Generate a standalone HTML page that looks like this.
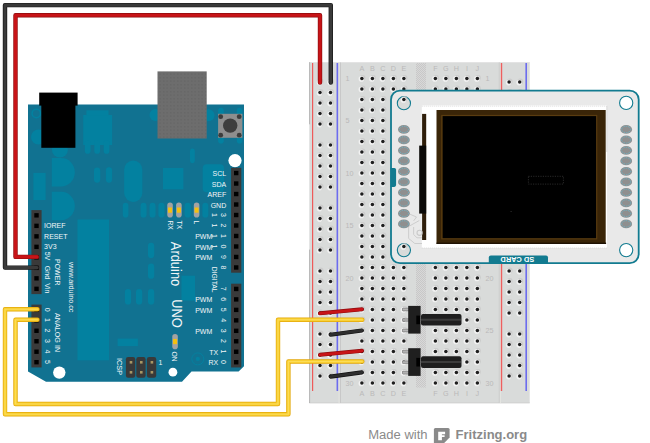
<!DOCTYPE html>
<html><head><meta charset="utf-8"><style>
html,body{margin:0;padding:0;background:#fff;width:650px;height:443px;overflow:hidden}
svg{display:block}
text{font-family:"Liberation Sans",sans-serif}
</style></head><body>
<svg width="650" height="443" viewBox="0 0 650 443">
<rect x="309.3" y="62.2" width="220.4" height="341.1" fill="#d9dbda"/>
<rect x="309.3" y="62.2" width="220.4" height="0.8" fill="#e4e4e4"/>
<rect x="309.3" y="402.4" width="220.4" height="0.8" fill="#cfcfcf"/>
<path d="M309.6 62.2 V124.3 M309.6 249.6 V403" stroke="#a8a8a8" stroke-width="0.8"/>
<path d="M340.4 62.5 V403 M499.3 62.5 V403" stroke="#c6c6c6" stroke-width="1"/>
<path d="M339.1 62.5 V403 M500.3 62.5 V403" stroke="#e4e5e1" stroke-width="1.1"/>
<line x1="312.6" y1="63" x2="312.6" y2="391" stroke="#ee5a5a" stroke-width="1.2"/>
<line x1="337.35" y1="63" x2="337.35" y2="391" stroke="#6c6cee" stroke-width="1.6"/>
<line x1="501.5" y1="63" x2="501.5" y2="391" stroke="#ee5f5f" stroke-width="1.4"/>
<line x1="526.2" y1="63" x2="526.2" y2="391" stroke="#6c6cee" stroke-width="1.6"/>
<defs><pattern id="chk" width="2" height="2" patternUnits="userSpaceOnUse"><rect width="2" height="2" fill="#d8d8d8"/><rect width="1" height="1" fill="#c8c8c8"/><rect x="1" y="1" width="1" height="1" fill="#c8c8c8"/></pattern><pattern id="usb" x="158.5" y="72.5" width="3.5" height="3.5" patternUnits="userSpaceOnUse"><rect width="3.5" height="3.5" fill="#6d6d6d"/><rect x="1.2" y="1.2" width="1" height="1" fill="#5e5e5e"/></pattern></defs>
<rect x="416" y="63" width="10" height="324.6" fill="url(#chk)"/>
<g><circle cx="362.5" cy="77.8" r="2.9" fill="#c6c6c6" opacity="0.7"/><circle cx="361.4" cy="78.9" r="2.8" fill="#f4f4f4" opacity="0.9"/><circle cx="361.9" cy="78.4" r="1.75" fill="#1e1e1e"/><circle cx="373" cy="77.8" r="2.9" fill="#c6c6c6" opacity="0.7"/><circle cx="371.9" cy="78.9" r="2.8" fill="#f4f4f4" opacity="0.9"/><circle cx="372.4" cy="78.4" r="1.75" fill="#1e1e1e"/><circle cx="383.5" cy="77.8" r="2.9" fill="#c6c6c6" opacity="0.7"/><circle cx="382.4" cy="78.9" r="2.8" fill="#f4f4f4" opacity="0.9"/><circle cx="382.9" cy="78.4" r="1.75" fill="#1e1e1e"/><circle cx="394" cy="77.8" r="2.9" fill="#c6c6c6" opacity="0.7"/><circle cx="392.9" cy="78.9" r="2.8" fill="#f4f4f4" opacity="0.9"/><circle cx="393.4" cy="78.4" r="1.75" fill="#1e1e1e"/><circle cx="404.5" cy="77.8" r="2.9" fill="#c6c6c6" opacity="0.7"/><circle cx="403.4" cy="78.9" r="2.8" fill="#f4f4f4" opacity="0.9"/><circle cx="403.9" cy="78.4" r="1.75" fill="#1e1e1e"/><circle cx="436" cy="77.8" r="2.9" fill="#c6c6c6" opacity="0.7"/><circle cx="434.9" cy="78.9" r="2.8" fill="#f4f4f4" opacity="0.9"/><circle cx="435.4" cy="78.4" r="1.75" fill="#1e1e1e"/><circle cx="446.5" cy="77.8" r="2.9" fill="#c6c6c6" opacity="0.7"/><circle cx="445.4" cy="78.9" r="2.8" fill="#f4f4f4" opacity="0.9"/><circle cx="445.9" cy="78.4" r="1.75" fill="#1e1e1e"/><circle cx="457" cy="77.8" r="2.9" fill="#c6c6c6" opacity="0.7"/><circle cx="455.9" cy="78.9" r="2.8" fill="#f4f4f4" opacity="0.9"/><circle cx="456.4" cy="78.4" r="1.75" fill="#1e1e1e"/><circle cx="467.5" cy="77.8" r="2.9" fill="#c6c6c6" opacity="0.7"/><circle cx="466.4" cy="78.9" r="2.8" fill="#f4f4f4" opacity="0.9"/><circle cx="466.9" cy="78.4" r="1.75" fill="#1e1e1e"/><circle cx="478" cy="77.8" r="2.9" fill="#c6c6c6" opacity="0.7"/><circle cx="476.9" cy="78.9" r="2.8" fill="#f4f4f4" opacity="0.9"/><circle cx="477.4" cy="78.4" r="1.75" fill="#1e1e1e"/><circle cx="362.5" cy="88.3" r="2.9" fill="#c6c6c6" opacity="0.7"/><circle cx="361.4" cy="89.4" r="2.8" fill="#f4f4f4" opacity="0.9"/><circle cx="361.9" cy="88.9" r="1.75" fill="#1e1e1e"/><circle cx="373" cy="88.3" r="2.9" fill="#c6c6c6" opacity="0.7"/><circle cx="371.9" cy="89.4" r="2.8" fill="#f4f4f4" opacity="0.9"/><circle cx="372.4" cy="88.9" r="1.75" fill="#1e1e1e"/><circle cx="383.5" cy="88.3" r="2.9" fill="#c6c6c6" opacity="0.7"/><circle cx="382.4" cy="89.4" r="2.8" fill="#f4f4f4" opacity="0.9"/><circle cx="382.9" cy="88.9" r="1.75" fill="#1e1e1e"/><circle cx="394" cy="88.3" r="2.9" fill="#c6c6c6" opacity="0.7"/><circle cx="392.9" cy="89.4" r="2.8" fill="#f4f4f4" opacity="0.9"/><circle cx="393.4" cy="88.9" r="1.75" fill="#1e1e1e"/><circle cx="404.5" cy="88.3" r="2.9" fill="#c6c6c6" opacity="0.7"/><circle cx="403.4" cy="89.4" r="2.8" fill="#f4f4f4" opacity="0.9"/><circle cx="403.9" cy="88.9" r="1.75" fill="#1e1e1e"/><circle cx="436" cy="88.3" r="2.9" fill="#c6c6c6" opacity="0.7"/><circle cx="434.9" cy="89.4" r="2.8" fill="#f4f4f4" opacity="0.9"/><circle cx="435.4" cy="88.9" r="1.75" fill="#1e1e1e"/><circle cx="446.5" cy="88.3" r="2.9" fill="#c6c6c6" opacity="0.7"/><circle cx="445.4" cy="89.4" r="2.8" fill="#f4f4f4" opacity="0.9"/><circle cx="445.9" cy="88.9" r="1.75" fill="#1e1e1e"/><circle cx="457" cy="88.3" r="2.9" fill="#c6c6c6" opacity="0.7"/><circle cx="455.9" cy="89.4" r="2.8" fill="#f4f4f4" opacity="0.9"/><circle cx="456.4" cy="88.9" r="1.75" fill="#1e1e1e"/><circle cx="467.5" cy="88.3" r="2.9" fill="#c6c6c6" opacity="0.7"/><circle cx="466.4" cy="89.4" r="2.8" fill="#f4f4f4" opacity="0.9"/><circle cx="466.9" cy="88.9" r="1.75" fill="#1e1e1e"/><circle cx="478" cy="88.3" r="2.9" fill="#c6c6c6" opacity="0.7"/><circle cx="476.9" cy="89.4" r="2.8" fill="#f4f4f4" opacity="0.9"/><circle cx="477.4" cy="88.9" r="1.75" fill="#1e1e1e"/><circle cx="362.5" cy="98.8" r="2.9" fill="#c6c6c6" opacity="0.7"/><circle cx="361.4" cy="99.9" r="2.8" fill="#f4f4f4" opacity="0.9"/><circle cx="361.9" cy="99.4" r="1.75" fill="#1e1e1e"/><circle cx="373" cy="98.8" r="2.9" fill="#c6c6c6" opacity="0.7"/><circle cx="371.9" cy="99.9" r="2.8" fill="#f4f4f4" opacity="0.9"/><circle cx="372.4" cy="99.4" r="1.75" fill="#1e1e1e"/><circle cx="383.5" cy="98.8" r="2.9" fill="#c6c6c6" opacity="0.7"/><circle cx="382.4" cy="99.9" r="2.8" fill="#f4f4f4" opacity="0.9"/><circle cx="382.9" cy="99.4" r="1.75" fill="#1e1e1e"/><circle cx="394" cy="98.8" r="2.9" fill="#c6c6c6" opacity="0.7"/><circle cx="392.9" cy="99.9" r="2.8" fill="#f4f4f4" opacity="0.9"/><circle cx="393.4" cy="99.4" r="1.75" fill="#1e1e1e"/><circle cx="404.5" cy="98.8" r="2.9" fill="#c6c6c6" opacity="0.7"/><circle cx="403.4" cy="99.9" r="2.8" fill="#f4f4f4" opacity="0.9"/><circle cx="403.9" cy="99.4" r="1.75" fill="#1e1e1e"/><circle cx="436" cy="98.8" r="2.9" fill="#c6c6c6" opacity="0.7"/><circle cx="434.9" cy="99.9" r="2.8" fill="#f4f4f4" opacity="0.9"/><circle cx="435.4" cy="99.4" r="1.75" fill="#1e1e1e"/><circle cx="446.5" cy="98.8" r="2.9" fill="#c6c6c6" opacity="0.7"/><circle cx="445.4" cy="99.9" r="2.8" fill="#f4f4f4" opacity="0.9"/><circle cx="445.9" cy="99.4" r="1.75" fill="#1e1e1e"/><circle cx="457" cy="98.8" r="2.9" fill="#c6c6c6" opacity="0.7"/><circle cx="455.9" cy="99.9" r="2.8" fill="#f4f4f4" opacity="0.9"/><circle cx="456.4" cy="99.4" r="1.75" fill="#1e1e1e"/><circle cx="467.5" cy="98.8" r="2.9" fill="#c6c6c6" opacity="0.7"/><circle cx="466.4" cy="99.9" r="2.8" fill="#f4f4f4" opacity="0.9"/><circle cx="466.9" cy="99.4" r="1.75" fill="#1e1e1e"/><circle cx="478" cy="98.8" r="2.9" fill="#c6c6c6" opacity="0.7"/><circle cx="476.9" cy="99.9" r="2.8" fill="#f4f4f4" opacity="0.9"/><circle cx="477.4" cy="99.4" r="1.75" fill="#1e1e1e"/><circle cx="362.5" cy="109.3" r="2.9" fill="#c6c6c6" opacity="0.7"/><circle cx="361.4" cy="110.4" r="2.8" fill="#f4f4f4" opacity="0.9"/><circle cx="361.9" cy="109.9" r="1.75" fill="#1e1e1e"/><circle cx="373" cy="109.3" r="2.9" fill="#c6c6c6" opacity="0.7"/><circle cx="371.9" cy="110.4" r="2.8" fill="#f4f4f4" opacity="0.9"/><circle cx="372.4" cy="109.9" r="1.75" fill="#1e1e1e"/><circle cx="383.5" cy="109.3" r="2.9" fill="#c6c6c6" opacity="0.7"/><circle cx="382.4" cy="110.4" r="2.8" fill="#f4f4f4" opacity="0.9"/><circle cx="382.9" cy="109.9" r="1.75" fill="#1e1e1e"/><circle cx="394" cy="109.3" r="2.9" fill="#c6c6c6" opacity="0.7"/><circle cx="392.9" cy="110.4" r="2.8" fill="#f4f4f4" opacity="0.9"/><circle cx="393.4" cy="109.9" r="1.75" fill="#1e1e1e"/><circle cx="404.5" cy="109.3" r="2.9" fill="#c6c6c6" opacity="0.7"/><circle cx="403.4" cy="110.4" r="2.8" fill="#f4f4f4" opacity="0.9"/><circle cx="403.9" cy="109.9" r="1.75" fill="#1e1e1e"/><circle cx="436" cy="109.3" r="2.9" fill="#c6c6c6" opacity="0.7"/><circle cx="434.9" cy="110.4" r="2.8" fill="#f4f4f4" opacity="0.9"/><circle cx="435.4" cy="109.9" r="1.75" fill="#1e1e1e"/><circle cx="446.5" cy="109.3" r="2.9" fill="#c6c6c6" opacity="0.7"/><circle cx="445.4" cy="110.4" r="2.8" fill="#f4f4f4" opacity="0.9"/><circle cx="445.9" cy="109.9" r="1.75" fill="#1e1e1e"/><circle cx="457" cy="109.3" r="2.9" fill="#c6c6c6" opacity="0.7"/><circle cx="455.9" cy="110.4" r="2.8" fill="#f4f4f4" opacity="0.9"/><circle cx="456.4" cy="109.9" r="1.75" fill="#1e1e1e"/><circle cx="467.5" cy="109.3" r="2.9" fill="#c6c6c6" opacity="0.7"/><circle cx="466.4" cy="110.4" r="2.8" fill="#f4f4f4" opacity="0.9"/><circle cx="466.9" cy="109.9" r="1.75" fill="#1e1e1e"/><circle cx="478" cy="109.3" r="2.9" fill="#c6c6c6" opacity="0.7"/><circle cx="476.9" cy="110.4" r="2.8" fill="#f4f4f4" opacity="0.9"/><circle cx="477.4" cy="109.9" r="1.75" fill="#1e1e1e"/><circle cx="362.5" cy="119.8" r="2.9" fill="#c6c6c6" opacity="0.7"/><circle cx="361.4" cy="120.9" r="2.8" fill="#f4f4f4" opacity="0.9"/><circle cx="361.9" cy="120.4" r="1.75" fill="#1e1e1e"/><circle cx="373" cy="119.8" r="2.9" fill="#c6c6c6" opacity="0.7"/><circle cx="371.9" cy="120.9" r="2.8" fill="#f4f4f4" opacity="0.9"/><circle cx="372.4" cy="120.4" r="1.75" fill="#1e1e1e"/><circle cx="383.5" cy="119.8" r="2.9" fill="#c6c6c6" opacity="0.7"/><circle cx="382.4" cy="120.9" r="2.8" fill="#f4f4f4" opacity="0.9"/><circle cx="382.9" cy="120.4" r="1.75" fill="#1e1e1e"/><circle cx="394" cy="119.8" r="2.9" fill="#c6c6c6" opacity="0.7"/><circle cx="392.9" cy="120.9" r="2.8" fill="#f4f4f4" opacity="0.9"/><circle cx="393.4" cy="120.4" r="1.75" fill="#1e1e1e"/><circle cx="404.5" cy="119.8" r="2.9" fill="#c6c6c6" opacity="0.7"/><circle cx="403.4" cy="120.9" r="2.8" fill="#f4f4f4" opacity="0.9"/><circle cx="403.9" cy="120.4" r="1.75" fill="#1e1e1e"/><circle cx="436" cy="119.8" r="2.9" fill="#c6c6c6" opacity="0.7"/><circle cx="434.9" cy="120.9" r="2.8" fill="#f4f4f4" opacity="0.9"/><circle cx="435.4" cy="120.4" r="1.75" fill="#1e1e1e"/><circle cx="446.5" cy="119.8" r="2.9" fill="#c6c6c6" opacity="0.7"/><circle cx="445.4" cy="120.9" r="2.8" fill="#f4f4f4" opacity="0.9"/><circle cx="445.9" cy="120.4" r="1.75" fill="#1e1e1e"/><circle cx="457" cy="119.8" r="2.9" fill="#c6c6c6" opacity="0.7"/><circle cx="455.9" cy="120.9" r="2.8" fill="#f4f4f4" opacity="0.9"/><circle cx="456.4" cy="120.4" r="1.75" fill="#1e1e1e"/><circle cx="467.5" cy="119.8" r="2.9" fill="#c6c6c6" opacity="0.7"/><circle cx="466.4" cy="120.9" r="2.8" fill="#f4f4f4" opacity="0.9"/><circle cx="466.9" cy="120.4" r="1.75" fill="#1e1e1e"/><circle cx="478" cy="119.8" r="2.9" fill="#c6c6c6" opacity="0.7"/><circle cx="476.9" cy="120.9" r="2.8" fill="#f4f4f4" opacity="0.9"/><circle cx="477.4" cy="120.4" r="1.75" fill="#1e1e1e"/><circle cx="362.5" cy="130.3" r="2.9" fill="#c6c6c6" opacity="0.7"/><circle cx="361.4" cy="131.4" r="2.8" fill="#f4f4f4" opacity="0.9"/><circle cx="361.9" cy="130.9" r="1.75" fill="#1e1e1e"/><circle cx="373" cy="130.3" r="2.9" fill="#c6c6c6" opacity="0.7"/><circle cx="371.9" cy="131.4" r="2.8" fill="#f4f4f4" opacity="0.9"/><circle cx="372.4" cy="130.9" r="1.75" fill="#1e1e1e"/><circle cx="383.5" cy="130.3" r="2.9" fill="#c6c6c6" opacity="0.7"/><circle cx="382.4" cy="131.4" r="2.8" fill="#f4f4f4" opacity="0.9"/><circle cx="382.9" cy="130.9" r="1.75" fill="#1e1e1e"/><circle cx="394" cy="130.3" r="2.9" fill="#c6c6c6" opacity="0.7"/><circle cx="392.9" cy="131.4" r="2.8" fill="#f4f4f4" opacity="0.9"/><circle cx="393.4" cy="130.9" r="1.75" fill="#1e1e1e"/><circle cx="404.5" cy="130.3" r="2.9" fill="#c6c6c6" opacity="0.7"/><circle cx="403.4" cy="131.4" r="2.8" fill="#f4f4f4" opacity="0.9"/><circle cx="403.9" cy="130.9" r="1.75" fill="#1e1e1e"/><circle cx="436" cy="130.3" r="2.9" fill="#c6c6c6" opacity="0.7"/><circle cx="434.9" cy="131.4" r="2.8" fill="#f4f4f4" opacity="0.9"/><circle cx="435.4" cy="130.9" r="1.75" fill="#1e1e1e"/><circle cx="446.5" cy="130.3" r="2.9" fill="#c6c6c6" opacity="0.7"/><circle cx="445.4" cy="131.4" r="2.8" fill="#f4f4f4" opacity="0.9"/><circle cx="445.9" cy="130.9" r="1.75" fill="#1e1e1e"/><circle cx="457" cy="130.3" r="2.9" fill="#c6c6c6" opacity="0.7"/><circle cx="455.9" cy="131.4" r="2.8" fill="#f4f4f4" opacity="0.9"/><circle cx="456.4" cy="130.9" r="1.75" fill="#1e1e1e"/><circle cx="467.5" cy="130.3" r="2.9" fill="#c6c6c6" opacity="0.7"/><circle cx="466.4" cy="131.4" r="2.8" fill="#f4f4f4" opacity="0.9"/><circle cx="466.9" cy="130.9" r="1.75" fill="#1e1e1e"/><circle cx="478" cy="130.3" r="2.9" fill="#c6c6c6" opacity="0.7"/><circle cx="476.9" cy="131.4" r="2.8" fill="#f4f4f4" opacity="0.9"/><circle cx="477.4" cy="130.9" r="1.75" fill="#1e1e1e"/><circle cx="362.5" cy="140.8" r="2.9" fill="#c6c6c6" opacity="0.7"/><circle cx="361.4" cy="141.9" r="2.8" fill="#f4f4f4" opacity="0.9"/><circle cx="361.9" cy="141.4" r="1.75" fill="#1e1e1e"/><circle cx="373" cy="140.8" r="2.9" fill="#c6c6c6" opacity="0.7"/><circle cx="371.9" cy="141.9" r="2.8" fill="#f4f4f4" opacity="0.9"/><circle cx="372.4" cy="141.4" r="1.75" fill="#1e1e1e"/><circle cx="383.5" cy="140.8" r="2.9" fill="#c6c6c6" opacity="0.7"/><circle cx="382.4" cy="141.9" r="2.8" fill="#f4f4f4" opacity="0.9"/><circle cx="382.9" cy="141.4" r="1.75" fill="#1e1e1e"/><circle cx="394" cy="140.8" r="2.9" fill="#c6c6c6" opacity="0.7"/><circle cx="392.9" cy="141.9" r="2.8" fill="#f4f4f4" opacity="0.9"/><circle cx="393.4" cy="141.4" r="1.75" fill="#1e1e1e"/><circle cx="404.5" cy="140.8" r="2.9" fill="#c6c6c6" opacity="0.7"/><circle cx="403.4" cy="141.9" r="2.8" fill="#f4f4f4" opacity="0.9"/><circle cx="403.9" cy="141.4" r="1.75" fill="#1e1e1e"/><circle cx="436" cy="140.8" r="2.9" fill="#c6c6c6" opacity="0.7"/><circle cx="434.9" cy="141.9" r="2.8" fill="#f4f4f4" opacity="0.9"/><circle cx="435.4" cy="141.4" r="1.75" fill="#1e1e1e"/><circle cx="446.5" cy="140.8" r="2.9" fill="#c6c6c6" opacity="0.7"/><circle cx="445.4" cy="141.9" r="2.8" fill="#f4f4f4" opacity="0.9"/><circle cx="445.9" cy="141.4" r="1.75" fill="#1e1e1e"/><circle cx="457" cy="140.8" r="2.9" fill="#c6c6c6" opacity="0.7"/><circle cx="455.9" cy="141.9" r="2.8" fill="#f4f4f4" opacity="0.9"/><circle cx="456.4" cy="141.4" r="1.75" fill="#1e1e1e"/><circle cx="467.5" cy="140.8" r="2.9" fill="#c6c6c6" opacity="0.7"/><circle cx="466.4" cy="141.9" r="2.8" fill="#f4f4f4" opacity="0.9"/><circle cx="466.9" cy="141.4" r="1.75" fill="#1e1e1e"/><circle cx="478" cy="140.8" r="2.9" fill="#c6c6c6" opacity="0.7"/><circle cx="476.9" cy="141.9" r="2.8" fill="#f4f4f4" opacity="0.9"/><circle cx="477.4" cy="141.4" r="1.75" fill="#1e1e1e"/><circle cx="362.5" cy="151.3" r="2.9" fill="#c6c6c6" opacity="0.7"/><circle cx="361.4" cy="152.4" r="2.8" fill="#f4f4f4" opacity="0.9"/><circle cx="361.9" cy="151.9" r="1.75" fill="#1e1e1e"/><circle cx="373" cy="151.3" r="2.9" fill="#c6c6c6" opacity="0.7"/><circle cx="371.9" cy="152.4" r="2.8" fill="#f4f4f4" opacity="0.9"/><circle cx="372.4" cy="151.9" r="1.75" fill="#1e1e1e"/><circle cx="383.5" cy="151.3" r="2.9" fill="#c6c6c6" opacity="0.7"/><circle cx="382.4" cy="152.4" r="2.8" fill="#f4f4f4" opacity="0.9"/><circle cx="382.9" cy="151.9" r="1.75" fill="#1e1e1e"/><circle cx="394" cy="151.3" r="2.9" fill="#c6c6c6" opacity="0.7"/><circle cx="392.9" cy="152.4" r="2.8" fill="#f4f4f4" opacity="0.9"/><circle cx="393.4" cy="151.9" r="1.75" fill="#1e1e1e"/><circle cx="404.5" cy="151.3" r="2.9" fill="#c6c6c6" opacity="0.7"/><circle cx="403.4" cy="152.4" r="2.8" fill="#f4f4f4" opacity="0.9"/><circle cx="403.9" cy="151.9" r="1.75" fill="#1e1e1e"/><circle cx="436" cy="151.3" r="2.9" fill="#c6c6c6" opacity="0.7"/><circle cx="434.9" cy="152.4" r="2.8" fill="#f4f4f4" opacity="0.9"/><circle cx="435.4" cy="151.9" r="1.75" fill="#1e1e1e"/><circle cx="446.5" cy="151.3" r="2.9" fill="#c6c6c6" opacity="0.7"/><circle cx="445.4" cy="152.4" r="2.8" fill="#f4f4f4" opacity="0.9"/><circle cx="445.9" cy="151.9" r="1.75" fill="#1e1e1e"/><circle cx="457" cy="151.3" r="2.9" fill="#c6c6c6" opacity="0.7"/><circle cx="455.9" cy="152.4" r="2.8" fill="#f4f4f4" opacity="0.9"/><circle cx="456.4" cy="151.9" r="1.75" fill="#1e1e1e"/><circle cx="467.5" cy="151.3" r="2.9" fill="#c6c6c6" opacity="0.7"/><circle cx="466.4" cy="152.4" r="2.8" fill="#f4f4f4" opacity="0.9"/><circle cx="466.9" cy="151.9" r="1.75" fill="#1e1e1e"/><circle cx="478" cy="151.3" r="2.9" fill="#c6c6c6" opacity="0.7"/><circle cx="476.9" cy="152.4" r="2.8" fill="#f4f4f4" opacity="0.9"/><circle cx="477.4" cy="151.9" r="1.75" fill="#1e1e1e"/><circle cx="362.5" cy="161.8" r="2.9" fill="#c6c6c6" opacity="0.7"/><circle cx="361.4" cy="162.9" r="2.8" fill="#f4f4f4" opacity="0.9"/><circle cx="361.9" cy="162.4" r="1.75" fill="#1e1e1e"/><circle cx="373" cy="161.8" r="2.9" fill="#c6c6c6" opacity="0.7"/><circle cx="371.9" cy="162.9" r="2.8" fill="#f4f4f4" opacity="0.9"/><circle cx="372.4" cy="162.4" r="1.75" fill="#1e1e1e"/><circle cx="383.5" cy="161.8" r="2.9" fill="#c6c6c6" opacity="0.7"/><circle cx="382.4" cy="162.9" r="2.8" fill="#f4f4f4" opacity="0.9"/><circle cx="382.9" cy="162.4" r="1.75" fill="#1e1e1e"/><circle cx="394" cy="161.8" r="2.9" fill="#c6c6c6" opacity="0.7"/><circle cx="392.9" cy="162.9" r="2.8" fill="#f4f4f4" opacity="0.9"/><circle cx="393.4" cy="162.4" r="1.75" fill="#1e1e1e"/><circle cx="404.5" cy="161.8" r="2.9" fill="#c6c6c6" opacity="0.7"/><circle cx="403.4" cy="162.9" r="2.8" fill="#f4f4f4" opacity="0.9"/><circle cx="403.9" cy="162.4" r="1.75" fill="#1e1e1e"/><circle cx="436" cy="161.8" r="2.9" fill="#c6c6c6" opacity="0.7"/><circle cx="434.9" cy="162.9" r="2.8" fill="#f4f4f4" opacity="0.9"/><circle cx="435.4" cy="162.4" r="1.75" fill="#1e1e1e"/><circle cx="446.5" cy="161.8" r="2.9" fill="#c6c6c6" opacity="0.7"/><circle cx="445.4" cy="162.9" r="2.8" fill="#f4f4f4" opacity="0.9"/><circle cx="445.9" cy="162.4" r="1.75" fill="#1e1e1e"/><circle cx="457" cy="161.8" r="2.9" fill="#c6c6c6" opacity="0.7"/><circle cx="455.9" cy="162.9" r="2.8" fill="#f4f4f4" opacity="0.9"/><circle cx="456.4" cy="162.4" r="1.75" fill="#1e1e1e"/><circle cx="467.5" cy="161.8" r="2.9" fill="#c6c6c6" opacity="0.7"/><circle cx="466.4" cy="162.9" r="2.8" fill="#f4f4f4" opacity="0.9"/><circle cx="466.9" cy="162.4" r="1.75" fill="#1e1e1e"/><circle cx="478" cy="161.8" r="2.9" fill="#c6c6c6" opacity="0.7"/><circle cx="476.9" cy="162.9" r="2.8" fill="#f4f4f4" opacity="0.9"/><circle cx="477.4" cy="162.4" r="1.75" fill="#1e1e1e"/><circle cx="362.5" cy="172.3" r="2.9" fill="#c6c6c6" opacity="0.7"/><circle cx="361.4" cy="173.4" r="2.8" fill="#f4f4f4" opacity="0.9"/><circle cx="361.9" cy="172.9" r="1.75" fill="#1e1e1e"/><circle cx="373" cy="172.3" r="2.9" fill="#c6c6c6" opacity="0.7"/><circle cx="371.9" cy="173.4" r="2.8" fill="#f4f4f4" opacity="0.9"/><circle cx="372.4" cy="172.9" r="1.75" fill="#1e1e1e"/><circle cx="383.5" cy="172.3" r="2.9" fill="#c6c6c6" opacity="0.7"/><circle cx="382.4" cy="173.4" r="2.8" fill="#f4f4f4" opacity="0.9"/><circle cx="382.9" cy="172.9" r="1.75" fill="#1e1e1e"/><circle cx="394" cy="172.3" r="2.9" fill="#c6c6c6" opacity="0.7"/><circle cx="392.9" cy="173.4" r="2.8" fill="#f4f4f4" opacity="0.9"/><circle cx="393.4" cy="172.9" r="1.75" fill="#1e1e1e"/><circle cx="404.5" cy="172.3" r="2.9" fill="#c6c6c6" opacity="0.7"/><circle cx="403.4" cy="173.4" r="2.8" fill="#f4f4f4" opacity="0.9"/><circle cx="403.9" cy="172.9" r="1.75" fill="#1e1e1e"/><circle cx="436" cy="172.3" r="2.9" fill="#c6c6c6" opacity="0.7"/><circle cx="434.9" cy="173.4" r="2.8" fill="#f4f4f4" opacity="0.9"/><circle cx="435.4" cy="172.9" r="1.75" fill="#1e1e1e"/><circle cx="446.5" cy="172.3" r="2.9" fill="#c6c6c6" opacity="0.7"/><circle cx="445.4" cy="173.4" r="2.8" fill="#f4f4f4" opacity="0.9"/><circle cx="445.9" cy="172.9" r="1.75" fill="#1e1e1e"/><circle cx="457" cy="172.3" r="2.9" fill="#c6c6c6" opacity="0.7"/><circle cx="455.9" cy="173.4" r="2.8" fill="#f4f4f4" opacity="0.9"/><circle cx="456.4" cy="172.9" r="1.75" fill="#1e1e1e"/><circle cx="467.5" cy="172.3" r="2.9" fill="#c6c6c6" opacity="0.7"/><circle cx="466.4" cy="173.4" r="2.8" fill="#f4f4f4" opacity="0.9"/><circle cx="466.9" cy="172.9" r="1.75" fill="#1e1e1e"/><circle cx="478" cy="172.3" r="2.9" fill="#c6c6c6" opacity="0.7"/><circle cx="476.9" cy="173.4" r="2.8" fill="#f4f4f4" opacity="0.9"/><circle cx="477.4" cy="172.9" r="1.75" fill="#1e1e1e"/><circle cx="362.5" cy="182.8" r="2.9" fill="#c6c6c6" opacity="0.7"/><circle cx="361.4" cy="183.9" r="2.8" fill="#f4f4f4" opacity="0.9"/><circle cx="361.9" cy="183.4" r="1.75" fill="#1e1e1e"/><circle cx="373" cy="182.8" r="2.9" fill="#c6c6c6" opacity="0.7"/><circle cx="371.9" cy="183.9" r="2.8" fill="#f4f4f4" opacity="0.9"/><circle cx="372.4" cy="183.4" r="1.75" fill="#1e1e1e"/><circle cx="383.5" cy="182.8" r="2.9" fill="#c6c6c6" opacity="0.7"/><circle cx="382.4" cy="183.9" r="2.8" fill="#f4f4f4" opacity="0.9"/><circle cx="382.9" cy="183.4" r="1.75" fill="#1e1e1e"/><circle cx="394" cy="182.8" r="2.9" fill="#c6c6c6" opacity="0.7"/><circle cx="392.9" cy="183.9" r="2.8" fill="#f4f4f4" opacity="0.9"/><circle cx="393.4" cy="183.4" r="1.75" fill="#1e1e1e"/><circle cx="404.5" cy="182.8" r="2.9" fill="#c6c6c6" opacity="0.7"/><circle cx="403.4" cy="183.9" r="2.8" fill="#f4f4f4" opacity="0.9"/><circle cx="403.9" cy="183.4" r="1.75" fill="#1e1e1e"/><circle cx="436" cy="182.8" r="2.9" fill="#c6c6c6" opacity="0.7"/><circle cx="434.9" cy="183.9" r="2.8" fill="#f4f4f4" opacity="0.9"/><circle cx="435.4" cy="183.4" r="1.75" fill="#1e1e1e"/><circle cx="446.5" cy="182.8" r="2.9" fill="#c6c6c6" opacity="0.7"/><circle cx="445.4" cy="183.9" r="2.8" fill="#f4f4f4" opacity="0.9"/><circle cx="445.9" cy="183.4" r="1.75" fill="#1e1e1e"/><circle cx="457" cy="182.8" r="2.9" fill="#c6c6c6" opacity="0.7"/><circle cx="455.9" cy="183.9" r="2.8" fill="#f4f4f4" opacity="0.9"/><circle cx="456.4" cy="183.4" r="1.75" fill="#1e1e1e"/><circle cx="467.5" cy="182.8" r="2.9" fill="#c6c6c6" opacity="0.7"/><circle cx="466.4" cy="183.9" r="2.8" fill="#f4f4f4" opacity="0.9"/><circle cx="466.9" cy="183.4" r="1.75" fill="#1e1e1e"/><circle cx="478" cy="182.8" r="2.9" fill="#c6c6c6" opacity="0.7"/><circle cx="476.9" cy="183.9" r="2.8" fill="#f4f4f4" opacity="0.9"/><circle cx="477.4" cy="183.4" r="1.75" fill="#1e1e1e"/><circle cx="362.5" cy="193.3" r="2.9" fill="#c6c6c6" opacity="0.7"/><circle cx="361.4" cy="194.4" r="2.8" fill="#f4f4f4" opacity="0.9"/><circle cx="361.9" cy="193.9" r="1.75" fill="#1e1e1e"/><circle cx="373" cy="193.3" r="2.9" fill="#c6c6c6" opacity="0.7"/><circle cx="371.9" cy="194.4" r="2.8" fill="#f4f4f4" opacity="0.9"/><circle cx="372.4" cy="193.9" r="1.75" fill="#1e1e1e"/><circle cx="383.5" cy="193.3" r="2.9" fill="#c6c6c6" opacity="0.7"/><circle cx="382.4" cy="194.4" r="2.8" fill="#f4f4f4" opacity="0.9"/><circle cx="382.9" cy="193.9" r="1.75" fill="#1e1e1e"/><circle cx="394" cy="193.3" r="2.9" fill="#c6c6c6" opacity="0.7"/><circle cx="392.9" cy="194.4" r="2.8" fill="#f4f4f4" opacity="0.9"/><circle cx="393.4" cy="193.9" r="1.75" fill="#1e1e1e"/><circle cx="404.5" cy="193.3" r="2.9" fill="#c6c6c6" opacity="0.7"/><circle cx="403.4" cy="194.4" r="2.8" fill="#f4f4f4" opacity="0.9"/><circle cx="403.9" cy="193.9" r="1.75" fill="#1e1e1e"/><circle cx="436" cy="193.3" r="2.9" fill="#c6c6c6" opacity="0.7"/><circle cx="434.9" cy="194.4" r="2.8" fill="#f4f4f4" opacity="0.9"/><circle cx="435.4" cy="193.9" r="1.75" fill="#1e1e1e"/><circle cx="446.5" cy="193.3" r="2.9" fill="#c6c6c6" opacity="0.7"/><circle cx="445.4" cy="194.4" r="2.8" fill="#f4f4f4" opacity="0.9"/><circle cx="445.9" cy="193.9" r="1.75" fill="#1e1e1e"/><circle cx="457" cy="193.3" r="2.9" fill="#c6c6c6" opacity="0.7"/><circle cx="455.9" cy="194.4" r="2.8" fill="#f4f4f4" opacity="0.9"/><circle cx="456.4" cy="193.9" r="1.75" fill="#1e1e1e"/><circle cx="467.5" cy="193.3" r="2.9" fill="#c6c6c6" opacity="0.7"/><circle cx="466.4" cy="194.4" r="2.8" fill="#f4f4f4" opacity="0.9"/><circle cx="466.9" cy="193.9" r="1.75" fill="#1e1e1e"/><circle cx="478" cy="193.3" r="2.9" fill="#c6c6c6" opacity="0.7"/><circle cx="476.9" cy="194.4" r="2.8" fill="#f4f4f4" opacity="0.9"/><circle cx="477.4" cy="193.9" r="1.75" fill="#1e1e1e"/><circle cx="362.5" cy="203.8" r="2.9" fill="#c6c6c6" opacity="0.7"/><circle cx="361.4" cy="204.9" r="2.8" fill="#f4f4f4" opacity="0.9"/><circle cx="361.9" cy="204.4" r="1.75" fill="#1e1e1e"/><circle cx="373" cy="203.8" r="2.9" fill="#c6c6c6" opacity="0.7"/><circle cx="371.9" cy="204.9" r="2.8" fill="#f4f4f4" opacity="0.9"/><circle cx="372.4" cy="204.4" r="1.75" fill="#1e1e1e"/><circle cx="383.5" cy="203.8" r="2.9" fill="#c6c6c6" opacity="0.7"/><circle cx="382.4" cy="204.9" r="2.8" fill="#f4f4f4" opacity="0.9"/><circle cx="382.9" cy="204.4" r="1.75" fill="#1e1e1e"/><circle cx="394" cy="203.8" r="2.9" fill="#c6c6c6" opacity="0.7"/><circle cx="392.9" cy="204.9" r="2.8" fill="#f4f4f4" opacity="0.9"/><circle cx="393.4" cy="204.4" r="1.75" fill="#1e1e1e"/><circle cx="404.5" cy="203.8" r="2.9" fill="#c6c6c6" opacity="0.7"/><circle cx="403.4" cy="204.9" r="2.8" fill="#f4f4f4" opacity="0.9"/><circle cx="403.9" cy="204.4" r="1.75" fill="#1e1e1e"/><circle cx="436" cy="203.8" r="2.9" fill="#c6c6c6" opacity="0.7"/><circle cx="434.9" cy="204.9" r="2.8" fill="#f4f4f4" opacity="0.9"/><circle cx="435.4" cy="204.4" r="1.75" fill="#1e1e1e"/><circle cx="446.5" cy="203.8" r="2.9" fill="#c6c6c6" opacity="0.7"/><circle cx="445.4" cy="204.9" r="2.8" fill="#f4f4f4" opacity="0.9"/><circle cx="445.9" cy="204.4" r="1.75" fill="#1e1e1e"/><circle cx="457" cy="203.8" r="2.9" fill="#c6c6c6" opacity="0.7"/><circle cx="455.9" cy="204.9" r="2.8" fill="#f4f4f4" opacity="0.9"/><circle cx="456.4" cy="204.4" r="1.75" fill="#1e1e1e"/><circle cx="467.5" cy="203.8" r="2.9" fill="#c6c6c6" opacity="0.7"/><circle cx="466.4" cy="204.9" r="2.8" fill="#f4f4f4" opacity="0.9"/><circle cx="466.9" cy="204.4" r="1.75" fill="#1e1e1e"/><circle cx="478" cy="203.8" r="2.9" fill="#c6c6c6" opacity="0.7"/><circle cx="476.9" cy="204.9" r="2.8" fill="#f4f4f4" opacity="0.9"/><circle cx="477.4" cy="204.4" r="1.75" fill="#1e1e1e"/><circle cx="362.5" cy="214.3" r="2.9" fill="#c6c6c6" opacity="0.7"/><circle cx="361.4" cy="215.4" r="2.8" fill="#f4f4f4" opacity="0.9"/><circle cx="361.9" cy="214.9" r="1.75" fill="#1e1e1e"/><circle cx="373" cy="214.3" r="2.9" fill="#c6c6c6" opacity="0.7"/><circle cx="371.9" cy="215.4" r="2.8" fill="#f4f4f4" opacity="0.9"/><circle cx="372.4" cy="214.9" r="1.75" fill="#1e1e1e"/><circle cx="383.5" cy="214.3" r="2.9" fill="#c6c6c6" opacity="0.7"/><circle cx="382.4" cy="215.4" r="2.8" fill="#f4f4f4" opacity="0.9"/><circle cx="382.9" cy="214.9" r="1.75" fill="#1e1e1e"/><circle cx="394" cy="214.3" r="2.9" fill="#c6c6c6" opacity="0.7"/><circle cx="392.9" cy="215.4" r="2.8" fill="#f4f4f4" opacity="0.9"/><circle cx="393.4" cy="214.9" r="1.75" fill="#1e1e1e"/><circle cx="404.5" cy="214.3" r="2.9" fill="#c6c6c6" opacity="0.7"/><circle cx="403.4" cy="215.4" r="2.8" fill="#f4f4f4" opacity="0.9"/><circle cx="403.9" cy="214.9" r="1.75" fill="#1e1e1e"/><circle cx="436" cy="214.3" r="2.9" fill="#c6c6c6" opacity="0.7"/><circle cx="434.9" cy="215.4" r="2.8" fill="#f4f4f4" opacity="0.9"/><circle cx="435.4" cy="214.9" r="1.75" fill="#1e1e1e"/><circle cx="446.5" cy="214.3" r="2.9" fill="#c6c6c6" opacity="0.7"/><circle cx="445.4" cy="215.4" r="2.8" fill="#f4f4f4" opacity="0.9"/><circle cx="445.9" cy="214.9" r="1.75" fill="#1e1e1e"/><circle cx="457" cy="214.3" r="2.9" fill="#c6c6c6" opacity="0.7"/><circle cx="455.9" cy="215.4" r="2.8" fill="#f4f4f4" opacity="0.9"/><circle cx="456.4" cy="214.9" r="1.75" fill="#1e1e1e"/><circle cx="467.5" cy="214.3" r="2.9" fill="#c6c6c6" opacity="0.7"/><circle cx="466.4" cy="215.4" r="2.8" fill="#f4f4f4" opacity="0.9"/><circle cx="466.9" cy="214.9" r="1.75" fill="#1e1e1e"/><circle cx="478" cy="214.3" r="2.9" fill="#c6c6c6" opacity="0.7"/><circle cx="476.9" cy="215.4" r="2.8" fill="#f4f4f4" opacity="0.9"/><circle cx="477.4" cy="214.9" r="1.75" fill="#1e1e1e"/><circle cx="362.5" cy="224.8" r="2.9" fill="#c6c6c6" opacity="0.7"/><circle cx="361.4" cy="225.9" r="2.8" fill="#f4f4f4" opacity="0.9"/><circle cx="361.9" cy="225.4" r="1.75" fill="#1e1e1e"/><circle cx="373" cy="224.8" r="2.9" fill="#c6c6c6" opacity="0.7"/><circle cx="371.9" cy="225.9" r="2.8" fill="#f4f4f4" opacity="0.9"/><circle cx="372.4" cy="225.4" r="1.75" fill="#1e1e1e"/><circle cx="383.5" cy="224.8" r="2.9" fill="#c6c6c6" opacity="0.7"/><circle cx="382.4" cy="225.9" r="2.8" fill="#f4f4f4" opacity="0.9"/><circle cx="382.9" cy="225.4" r="1.75" fill="#1e1e1e"/><circle cx="394" cy="224.8" r="2.9" fill="#c6c6c6" opacity="0.7"/><circle cx="392.9" cy="225.9" r="2.8" fill="#f4f4f4" opacity="0.9"/><circle cx="393.4" cy="225.4" r="1.75" fill="#1e1e1e"/><circle cx="404.5" cy="224.8" r="2.9" fill="#c6c6c6" opacity="0.7"/><circle cx="403.4" cy="225.9" r="2.8" fill="#f4f4f4" opacity="0.9"/><circle cx="403.9" cy="225.4" r="1.75" fill="#1e1e1e"/><circle cx="436" cy="224.8" r="2.9" fill="#c6c6c6" opacity="0.7"/><circle cx="434.9" cy="225.9" r="2.8" fill="#f4f4f4" opacity="0.9"/><circle cx="435.4" cy="225.4" r="1.75" fill="#1e1e1e"/><circle cx="446.5" cy="224.8" r="2.9" fill="#c6c6c6" opacity="0.7"/><circle cx="445.4" cy="225.9" r="2.8" fill="#f4f4f4" opacity="0.9"/><circle cx="445.9" cy="225.4" r="1.75" fill="#1e1e1e"/><circle cx="457" cy="224.8" r="2.9" fill="#c6c6c6" opacity="0.7"/><circle cx="455.9" cy="225.9" r="2.8" fill="#f4f4f4" opacity="0.9"/><circle cx="456.4" cy="225.4" r="1.75" fill="#1e1e1e"/><circle cx="467.5" cy="224.8" r="2.9" fill="#c6c6c6" opacity="0.7"/><circle cx="466.4" cy="225.9" r="2.8" fill="#f4f4f4" opacity="0.9"/><circle cx="466.9" cy="225.4" r="1.75" fill="#1e1e1e"/><circle cx="478" cy="224.8" r="2.9" fill="#c6c6c6" opacity="0.7"/><circle cx="476.9" cy="225.9" r="2.8" fill="#f4f4f4" opacity="0.9"/><circle cx="477.4" cy="225.4" r="1.75" fill="#1e1e1e"/><circle cx="362.5" cy="235.3" r="2.9" fill="#c6c6c6" opacity="0.7"/><circle cx="361.4" cy="236.4" r="2.8" fill="#f4f4f4" opacity="0.9"/><circle cx="361.9" cy="235.9" r="1.75" fill="#1e1e1e"/><circle cx="373" cy="235.3" r="2.9" fill="#c6c6c6" opacity="0.7"/><circle cx="371.9" cy="236.4" r="2.8" fill="#f4f4f4" opacity="0.9"/><circle cx="372.4" cy="235.9" r="1.75" fill="#1e1e1e"/><circle cx="383.5" cy="235.3" r="2.9" fill="#c6c6c6" opacity="0.7"/><circle cx="382.4" cy="236.4" r="2.8" fill="#f4f4f4" opacity="0.9"/><circle cx="382.9" cy="235.9" r="1.75" fill="#1e1e1e"/><circle cx="394" cy="235.3" r="2.9" fill="#c6c6c6" opacity="0.7"/><circle cx="392.9" cy="236.4" r="2.8" fill="#f4f4f4" opacity="0.9"/><circle cx="393.4" cy="235.9" r="1.75" fill="#1e1e1e"/><circle cx="404.5" cy="235.3" r="2.9" fill="#c6c6c6" opacity="0.7"/><circle cx="403.4" cy="236.4" r="2.8" fill="#f4f4f4" opacity="0.9"/><circle cx="403.9" cy="235.9" r="1.75" fill="#1e1e1e"/><circle cx="436" cy="235.3" r="2.9" fill="#c6c6c6" opacity="0.7"/><circle cx="434.9" cy="236.4" r="2.8" fill="#f4f4f4" opacity="0.9"/><circle cx="435.4" cy="235.9" r="1.75" fill="#1e1e1e"/><circle cx="446.5" cy="235.3" r="2.9" fill="#c6c6c6" opacity="0.7"/><circle cx="445.4" cy="236.4" r="2.8" fill="#f4f4f4" opacity="0.9"/><circle cx="445.9" cy="235.9" r="1.75" fill="#1e1e1e"/><circle cx="457" cy="235.3" r="2.9" fill="#c6c6c6" opacity="0.7"/><circle cx="455.9" cy="236.4" r="2.8" fill="#f4f4f4" opacity="0.9"/><circle cx="456.4" cy="235.9" r="1.75" fill="#1e1e1e"/><circle cx="467.5" cy="235.3" r="2.9" fill="#c6c6c6" opacity="0.7"/><circle cx="466.4" cy="236.4" r="2.8" fill="#f4f4f4" opacity="0.9"/><circle cx="466.9" cy="235.9" r="1.75" fill="#1e1e1e"/><circle cx="478" cy="235.3" r="2.9" fill="#c6c6c6" opacity="0.7"/><circle cx="476.9" cy="236.4" r="2.8" fill="#f4f4f4" opacity="0.9"/><circle cx="477.4" cy="235.9" r="1.75" fill="#1e1e1e"/><circle cx="362.5" cy="245.8" r="2.9" fill="#c6c6c6" opacity="0.7"/><circle cx="361.4" cy="246.9" r="2.8" fill="#f4f4f4" opacity="0.9"/><circle cx="361.9" cy="246.4" r="1.75" fill="#1e1e1e"/><circle cx="373" cy="245.8" r="2.9" fill="#c6c6c6" opacity="0.7"/><circle cx="371.9" cy="246.9" r="2.8" fill="#f4f4f4" opacity="0.9"/><circle cx="372.4" cy="246.4" r="1.75" fill="#1e1e1e"/><circle cx="383.5" cy="245.8" r="2.9" fill="#c6c6c6" opacity="0.7"/><circle cx="382.4" cy="246.9" r="2.8" fill="#f4f4f4" opacity="0.9"/><circle cx="382.9" cy="246.4" r="1.75" fill="#1e1e1e"/><circle cx="394" cy="245.8" r="2.9" fill="#c6c6c6" opacity="0.7"/><circle cx="392.9" cy="246.9" r="2.8" fill="#f4f4f4" opacity="0.9"/><circle cx="393.4" cy="246.4" r="1.75" fill="#1e1e1e"/><circle cx="404.5" cy="245.8" r="2.9" fill="#c6c6c6" opacity="0.7"/><circle cx="403.4" cy="246.9" r="2.8" fill="#f4f4f4" opacity="0.9"/><circle cx="403.9" cy="246.4" r="1.75" fill="#1e1e1e"/><circle cx="436" cy="245.8" r="2.9" fill="#c6c6c6" opacity="0.7"/><circle cx="434.9" cy="246.9" r="2.8" fill="#f4f4f4" opacity="0.9"/><circle cx="435.4" cy="246.4" r="1.75" fill="#1e1e1e"/><circle cx="446.5" cy="245.8" r="2.9" fill="#c6c6c6" opacity="0.7"/><circle cx="445.4" cy="246.9" r="2.8" fill="#f4f4f4" opacity="0.9"/><circle cx="445.9" cy="246.4" r="1.75" fill="#1e1e1e"/><circle cx="457" cy="245.8" r="2.9" fill="#c6c6c6" opacity="0.7"/><circle cx="455.9" cy="246.9" r="2.8" fill="#f4f4f4" opacity="0.9"/><circle cx="456.4" cy="246.4" r="1.75" fill="#1e1e1e"/><circle cx="467.5" cy="245.8" r="2.9" fill="#c6c6c6" opacity="0.7"/><circle cx="466.4" cy="246.9" r="2.8" fill="#f4f4f4" opacity="0.9"/><circle cx="466.9" cy="246.4" r="1.75" fill="#1e1e1e"/><circle cx="478" cy="245.8" r="2.9" fill="#c6c6c6" opacity="0.7"/><circle cx="476.9" cy="246.9" r="2.8" fill="#f4f4f4" opacity="0.9"/><circle cx="477.4" cy="246.4" r="1.75" fill="#1e1e1e"/><circle cx="362.5" cy="256.3" r="2.9" fill="#c6c6c6" opacity="0.7"/><circle cx="361.4" cy="257.4" r="2.8" fill="#f4f4f4" opacity="0.9"/><circle cx="361.9" cy="256.9" r="1.75" fill="#1e1e1e"/><circle cx="373" cy="256.3" r="2.9" fill="#c6c6c6" opacity="0.7"/><circle cx="371.9" cy="257.4" r="2.8" fill="#f4f4f4" opacity="0.9"/><circle cx="372.4" cy="256.9" r="1.75" fill="#1e1e1e"/><circle cx="383.5" cy="256.3" r="2.9" fill="#c6c6c6" opacity="0.7"/><circle cx="382.4" cy="257.4" r="2.8" fill="#f4f4f4" opacity="0.9"/><circle cx="382.9" cy="256.9" r="1.75" fill="#1e1e1e"/><circle cx="394" cy="256.3" r="2.9" fill="#c6c6c6" opacity="0.7"/><circle cx="392.9" cy="257.4" r="2.8" fill="#f4f4f4" opacity="0.9"/><circle cx="393.4" cy="256.9" r="1.75" fill="#1e1e1e"/><circle cx="404.5" cy="256.3" r="2.9" fill="#c6c6c6" opacity="0.7"/><circle cx="403.4" cy="257.4" r="2.8" fill="#f4f4f4" opacity="0.9"/><circle cx="403.9" cy="256.9" r="1.75" fill="#1e1e1e"/><circle cx="436" cy="256.3" r="2.9" fill="#c6c6c6" opacity="0.7"/><circle cx="434.9" cy="257.4" r="2.8" fill="#f4f4f4" opacity="0.9"/><circle cx="435.4" cy="256.9" r="1.75" fill="#1e1e1e"/><circle cx="446.5" cy="256.3" r="2.9" fill="#c6c6c6" opacity="0.7"/><circle cx="445.4" cy="257.4" r="2.8" fill="#f4f4f4" opacity="0.9"/><circle cx="445.9" cy="256.9" r="1.75" fill="#1e1e1e"/><circle cx="457" cy="256.3" r="2.9" fill="#c6c6c6" opacity="0.7"/><circle cx="455.9" cy="257.4" r="2.8" fill="#f4f4f4" opacity="0.9"/><circle cx="456.4" cy="256.9" r="1.75" fill="#1e1e1e"/><circle cx="467.5" cy="256.3" r="2.9" fill="#c6c6c6" opacity="0.7"/><circle cx="466.4" cy="257.4" r="2.8" fill="#f4f4f4" opacity="0.9"/><circle cx="466.9" cy="256.9" r="1.75" fill="#1e1e1e"/><circle cx="478" cy="256.3" r="2.9" fill="#c6c6c6" opacity="0.7"/><circle cx="476.9" cy="257.4" r="2.8" fill="#f4f4f4" opacity="0.9"/><circle cx="477.4" cy="256.9" r="1.75" fill="#1e1e1e"/><circle cx="362.5" cy="266.8" r="2.9" fill="#c6c6c6" opacity="0.7"/><circle cx="361.4" cy="267.9" r="2.8" fill="#f4f4f4" opacity="0.9"/><circle cx="361.9" cy="267.4" r="1.75" fill="#1e1e1e"/><circle cx="373" cy="266.8" r="2.9" fill="#c6c6c6" opacity="0.7"/><circle cx="371.9" cy="267.9" r="2.8" fill="#f4f4f4" opacity="0.9"/><circle cx="372.4" cy="267.4" r="1.75" fill="#1e1e1e"/><circle cx="383.5" cy="266.8" r="2.9" fill="#c6c6c6" opacity="0.7"/><circle cx="382.4" cy="267.9" r="2.8" fill="#f4f4f4" opacity="0.9"/><circle cx="382.9" cy="267.4" r="1.75" fill="#1e1e1e"/><circle cx="394" cy="266.8" r="2.9" fill="#c6c6c6" opacity="0.7"/><circle cx="392.9" cy="267.9" r="2.8" fill="#f4f4f4" opacity="0.9"/><circle cx="393.4" cy="267.4" r="1.75" fill="#1e1e1e"/><circle cx="404.5" cy="266.8" r="2.9" fill="#c6c6c6" opacity="0.7"/><circle cx="403.4" cy="267.9" r="2.8" fill="#f4f4f4" opacity="0.9"/><circle cx="403.9" cy="267.4" r="1.75" fill="#1e1e1e"/><circle cx="436" cy="266.8" r="2.9" fill="#c6c6c6" opacity="0.7"/><circle cx="434.9" cy="267.9" r="2.8" fill="#f4f4f4" opacity="0.9"/><circle cx="435.4" cy="267.4" r="1.75" fill="#1e1e1e"/><circle cx="446.5" cy="266.8" r="2.9" fill="#c6c6c6" opacity="0.7"/><circle cx="445.4" cy="267.9" r="2.8" fill="#f4f4f4" opacity="0.9"/><circle cx="445.9" cy="267.4" r="1.75" fill="#1e1e1e"/><circle cx="457" cy="266.8" r="2.9" fill="#c6c6c6" opacity="0.7"/><circle cx="455.9" cy="267.9" r="2.8" fill="#f4f4f4" opacity="0.9"/><circle cx="456.4" cy="267.4" r="1.75" fill="#1e1e1e"/><circle cx="467.5" cy="266.8" r="2.9" fill="#c6c6c6" opacity="0.7"/><circle cx="466.4" cy="267.9" r="2.8" fill="#f4f4f4" opacity="0.9"/><circle cx="466.9" cy="267.4" r="1.75" fill="#1e1e1e"/><circle cx="478" cy="266.8" r="2.9" fill="#c6c6c6" opacity="0.7"/><circle cx="476.9" cy="267.9" r="2.8" fill="#f4f4f4" opacity="0.9"/><circle cx="477.4" cy="267.4" r="1.75" fill="#1e1e1e"/><circle cx="362.5" cy="277.3" r="2.9" fill="#c6c6c6" opacity="0.7"/><circle cx="361.4" cy="278.4" r="2.8" fill="#f4f4f4" opacity="0.9"/><circle cx="361.9" cy="277.9" r="1.75" fill="#1e1e1e"/><circle cx="373" cy="277.3" r="2.9" fill="#c6c6c6" opacity="0.7"/><circle cx="371.9" cy="278.4" r="2.8" fill="#f4f4f4" opacity="0.9"/><circle cx="372.4" cy="277.9" r="1.75" fill="#1e1e1e"/><circle cx="383.5" cy="277.3" r="2.9" fill="#c6c6c6" opacity="0.7"/><circle cx="382.4" cy="278.4" r="2.8" fill="#f4f4f4" opacity="0.9"/><circle cx="382.9" cy="277.9" r="1.75" fill="#1e1e1e"/><circle cx="394" cy="277.3" r="2.9" fill="#c6c6c6" opacity="0.7"/><circle cx="392.9" cy="278.4" r="2.8" fill="#f4f4f4" opacity="0.9"/><circle cx="393.4" cy="277.9" r="1.75" fill="#1e1e1e"/><circle cx="404.5" cy="277.3" r="2.9" fill="#c6c6c6" opacity="0.7"/><circle cx="403.4" cy="278.4" r="2.8" fill="#f4f4f4" opacity="0.9"/><circle cx="403.9" cy="277.9" r="1.75" fill="#1e1e1e"/><circle cx="436" cy="277.3" r="2.9" fill="#c6c6c6" opacity="0.7"/><circle cx="434.9" cy="278.4" r="2.8" fill="#f4f4f4" opacity="0.9"/><circle cx="435.4" cy="277.9" r="1.75" fill="#1e1e1e"/><circle cx="446.5" cy="277.3" r="2.9" fill="#c6c6c6" opacity="0.7"/><circle cx="445.4" cy="278.4" r="2.8" fill="#f4f4f4" opacity="0.9"/><circle cx="445.9" cy="277.9" r="1.75" fill="#1e1e1e"/><circle cx="457" cy="277.3" r="2.9" fill="#c6c6c6" opacity="0.7"/><circle cx="455.9" cy="278.4" r="2.8" fill="#f4f4f4" opacity="0.9"/><circle cx="456.4" cy="277.9" r="1.75" fill="#1e1e1e"/><circle cx="467.5" cy="277.3" r="2.9" fill="#c6c6c6" opacity="0.7"/><circle cx="466.4" cy="278.4" r="2.8" fill="#f4f4f4" opacity="0.9"/><circle cx="466.9" cy="277.9" r="1.75" fill="#1e1e1e"/><circle cx="478" cy="277.3" r="2.9" fill="#c6c6c6" opacity="0.7"/><circle cx="476.9" cy="278.4" r="2.8" fill="#f4f4f4" opacity="0.9"/><circle cx="477.4" cy="277.9" r="1.75" fill="#1e1e1e"/><circle cx="362.5" cy="287.8" r="2.9" fill="#c6c6c6" opacity="0.7"/><circle cx="361.4" cy="288.9" r="2.8" fill="#f4f4f4" opacity="0.9"/><circle cx="361.9" cy="288.4" r="1.75" fill="#1e1e1e"/><circle cx="373" cy="287.8" r="2.9" fill="#c6c6c6" opacity="0.7"/><circle cx="371.9" cy="288.9" r="2.8" fill="#f4f4f4" opacity="0.9"/><circle cx="372.4" cy="288.4" r="1.75" fill="#1e1e1e"/><circle cx="383.5" cy="287.8" r="2.9" fill="#c6c6c6" opacity="0.7"/><circle cx="382.4" cy="288.9" r="2.8" fill="#f4f4f4" opacity="0.9"/><circle cx="382.9" cy="288.4" r="1.75" fill="#1e1e1e"/><circle cx="394" cy="287.8" r="2.9" fill="#c6c6c6" opacity="0.7"/><circle cx="392.9" cy="288.9" r="2.8" fill="#f4f4f4" opacity="0.9"/><circle cx="393.4" cy="288.4" r="1.75" fill="#1e1e1e"/><circle cx="404.5" cy="287.8" r="2.9" fill="#c6c6c6" opacity="0.7"/><circle cx="403.4" cy="288.9" r="2.8" fill="#f4f4f4" opacity="0.9"/><circle cx="403.9" cy="288.4" r="1.75" fill="#1e1e1e"/><circle cx="436" cy="287.8" r="2.9" fill="#c6c6c6" opacity="0.7"/><circle cx="434.9" cy="288.9" r="2.8" fill="#f4f4f4" opacity="0.9"/><circle cx="435.4" cy="288.4" r="1.75" fill="#1e1e1e"/><circle cx="446.5" cy="287.8" r="2.9" fill="#c6c6c6" opacity="0.7"/><circle cx="445.4" cy="288.9" r="2.8" fill="#f4f4f4" opacity="0.9"/><circle cx="445.9" cy="288.4" r="1.75" fill="#1e1e1e"/><circle cx="457" cy="287.8" r="2.9" fill="#c6c6c6" opacity="0.7"/><circle cx="455.9" cy="288.9" r="2.8" fill="#f4f4f4" opacity="0.9"/><circle cx="456.4" cy="288.4" r="1.75" fill="#1e1e1e"/><circle cx="467.5" cy="287.8" r="2.9" fill="#c6c6c6" opacity="0.7"/><circle cx="466.4" cy="288.9" r="2.8" fill="#f4f4f4" opacity="0.9"/><circle cx="466.9" cy="288.4" r="1.75" fill="#1e1e1e"/><circle cx="478" cy="287.8" r="2.9" fill="#c6c6c6" opacity="0.7"/><circle cx="476.9" cy="288.9" r="2.8" fill="#f4f4f4" opacity="0.9"/><circle cx="477.4" cy="288.4" r="1.75" fill="#1e1e1e"/><circle cx="362.5" cy="298.3" r="2.9" fill="#c6c6c6" opacity="0.7"/><circle cx="361.4" cy="299.4" r="2.8" fill="#f4f4f4" opacity="0.9"/><circle cx="361.9" cy="298.9" r="1.75" fill="#1e1e1e"/><circle cx="373" cy="298.3" r="2.9" fill="#c6c6c6" opacity="0.7"/><circle cx="371.9" cy="299.4" r="2.8" fill="#f4f4f4" opacity="0.9"/><circle cx="372.4" cy="298.9" r="1.75" fill="#1e1e1e"/><circle cx="383.5" cy="298.3" r="2.9" fill="#c6c6c6" opacity="0.7"/><circle cx="382.4" cy="299.4" r="2.8" fill="#f4f4f4" opacity="0.9"/><circle cx="382.9" cy="298.9" r="1.75" fill="#1e1e1e"/><circle cx="394" cy="298.3" r="2.9" fill="#c6c6c6" opacity="0.7"/><circle cx="392.9" cy="299.4" r="2.8" fill="#f4f4f4" opacity="0.9"/><circle cx="393.4" cy="298.9" r="1.75" fill="#1e1e1e"/><circle cx="404.5" cy="298.3" r="2.9" fill="#c6c6c6" opacity="0.7"/><circle cx="403.4" cy="299.4" r="2.8" fill="#f4f4f4" opacity="0.9"/><circle cx="403.9" cy="298.9" r="1.75" fill="#1e1e1e"/><circle cx="436" cy="298.3" r="2.9" fill="#c6c6c6" opacity="0.7"/><circle cx="434.9" cy="299.4" r="2.8" fill="#f4f4f4" opacity="0.9"/><circle cx="435.4" cy="298.9" r="1.75" fill="#1e1e1e"/><circle cx="446.5" cy="298.3" r="2.9" fill="#c6c6c6" opacity="0.7"/><circle cx="445.4" cy="299.4" r="2.8" fill="#f4f4f4" opacity="0.9"/><circle cx="445.9" cy="298.9" r="1.75" fill="#1e1e1e"/><circle cx="457" cy="298.3" r="2.9" fill="#c6c6c6" opacity="0.7"/><circle cx="455.9" cy="299.4" r="2.8" fill="#f4f4f4" opacity="0.9"/><circle cx="456.4" cy="298.9" r="1.75" fill="#1e1e1e"/><circle cx="467.5" cy="298.3" r="2.9" fill="#c6c6c6" opacity="0.7"/><circle cx="466.4" cy="299.4" r="2.8" fill="#f4f4f4" opacity="0.9"/><circle cx="466.9" cy="298.9" r="1.75" fill="#1e1e1e"/><circle cx="478" cy="298.3" r="2.9" fill="#c6c6c6" opacity="0.7"/><circle cx="476.9" cy="299.4" r="2.8" fill="#f4f4f4" opacity="0.9"/><circle cx="477.4" cy="298.9" r="1.75" fill="#1e1e1e"/><circle cx="362.5" cy="308.8" r="2.9" fill="#c6c6c6" opacity="0.7"/><circle cx="361.4" cy="309.9" r="2.8" fill="#f4f4f4" opacity="0.9"/><circle cx="361.9" cy="309.4" r="1.75" fill="#1e1e1e"/><circle cx="373" cy="308.8" r="2.9" fill="#c6c6c6" opacity="0.7"/><circle cx="371.9" cy="309.9" r="2.8" fill="#f4f4f4" opacity="0.9"/><circle cx="372.4" cy="309.4" r="1.75" fill="#1e1e1e"/><circle cx="383.5" cy="308.8" r="2.9" fill="#c6c6c6" opacity="0.7"/><circle cx="382.4" cy="309.9" r="2.8" fill="#f4f4f4" opacity="0.9"/><circle cx="382.9" cy="309.4" r="1.75" fill="#1e1e1e"/><circle cx="394" cy="308.8" r="2.9" fill="#c6c6c6" opacity="0.7"/><circle cx="392.9" cy="309.9" r="2.8" fill="#f4f4f4" opacity="0.9"/><circle cx="393.4" cy="309.4" r="1.75" fill="#1e1e1e"/><circle cx="404.5" cy="308.8" r="2.9" fill="#c6c6c6" opacity="0.7"/><circle cx="403.4" cy="309.9" r="2.8" fill="#f4f4f4" opacity="0.9"/><circle cx="403.9" cy="309.4" r="1.75" fill="#1e1e1e"/><circle cx="436" cy="308.8" r="2.9" fill="#c6c6c6" opacity="0.7"/><circle cx="434.9" cy="309.9" r="2.8" fill="#f4f4f4" opacity="0.9"/><circle cx="435.4" cy="309.4" r="1.75" fill="#1e1e1e"/><circle cx="446.5" cy="308.8" r="2.9" fill="#c6c6c6" opacity="0.7"/><circle cx="445.4" cy="309.9" r="2.8" fill="#f4f4f4" opacity="0.9"/><circle cx="445.9" cy="309.4" r="1.75" fill="#1e1e1e"/><circle cx="457" cy="308.8" r="2.9" fill="#c6c6c6" opacity="0.7"/><circle cx="455.9" cy="309.9" r="2.8" fill="#f4f4f4" opacity="0.9"/><circle cx="456.4" cy="309.4" r="1.75" fill="#1e1e1e"/><circle cx="467.5" cy="308.8" r="2.9" fill="#c6c6c6" opacity="0.7"/><circle cx="466.4" cy="309.9" r="2.8" fill="#f4f4f4" opacity="0.9"/><circle cx="466.9" cy="309.4" r="1.75" fill="#1e1e1e"/><circle cx="478" cy="308.8" r="2.9" fill="#c6c6c6" opacity="0.7"/><circle cx="476.9" cy="309.9" r="2.8" fill="#f4f4f4" opacity="0.9"/><circle cx="477.4" cy="309.4" r="1.75" fill="#1e1e1e"/><circle cx="362.5" cy="319.3" r="2.9" fill="#c6c6c6" opacity="0.7"/><circle cx="361.4" cy="320.4" r="2.8" fill="#f4f4f4" opacity="0.9"/><circle cx="361.9" cy="319.9" r="1.75" fill="#1e1e1e"/><circle cx="373" cy="319.3" r="2.9" fill="#c6c6c6" opacity="0.7"/><circle cx="371.9" cy="320.4" r="2.8" fill="#f4f4f4" opacity="0.9"/><circle cx="372.4" cy="319.9" r="1.75" fill="#1e1e1e"/><circle cx="383.5" cy="319.3" r="2.9" fill="#c6c6c6" opacity="0.7"/><circle cx="382.4" cy="320.4" r="2.8" fill="#f4f4f4" opacity="0.9"/><circle cx="382.9" cy="319.9" r="1.75" fill="#1e1e1e"/><circle cx="394" cy="319.3" r="2.9" fill="#c6c6c6" opacity="0.7"/><circle cx="392.9" cy="320.4" r="2.8" fill="#f4f4f4" opacity="0.9"/><circle cx="393.4" cy="319.9" r="1.75" fill="#1e1e1e"/><circle cx="404.5" cy="319.3" r="2.9" fill="#c6c6c6" opacity="0.7"/><circle cx="403.4" cy="320.4" r="2.8" fill="#f4f4f4" opacity="0.9"/><circle cx="403.9" cy="319.9" r="1.75" fill="#1e1e1e"/><circle cx="436" cy="319.3" r="2.9" fill="#c6c6c6" opacity="0.7"/><circle cx="434.9" cy="320.4" r="2.8" fill="#f4f4f4" opacity="0.9"/><circle cx="435.4" cy="319.9" r="1.75" fill="#1e1e1e"/><circle cx="446.5" cy="319.3" r="2.9" fill="#c6c6c6" opacity="0.7"/><circle cx="445.4" cy="320.4" r="2.8" fill="#f4f4f4" opacity="0.9"/><circle cx="445.9" cy="319.9" r="1.75" fill="#1e1e1e"/><circle cx="457" cy="319.3" r="2.9" fill="#c6c6c6" opacity="0.7"/><circle cx="455.9" cy="320.4" r="2.8" fill="#f4f4f4" opacity="0.9"/><circle cx="456.4" cy="319.9" r="1.75" fill="#1e1e1e"/><circle cx="467.5" cy="319.3" r="2.9" fill="#c6c6c6" opacity="0.7"/><circle cx="466.4" cy="320.4" r="2.8" fill="#f4f4f4" opacity="0.9"/><circle cx="466.9" cy="319.9" r="1.75" fill="#1e1e1e"/><circle cx="478" cy="319.3" r="2.9" fill="#c6c6c6" opacity="0.7"/><circle cx="476.9" cy="320.4" r="2.8" fill="#f4f4f4" opacity="0.9"/><circle cx="477.4" cy="319.9" r="1.75" fill="#1e1e1e"/><circle cx="362.5" cy="329.8" r="2.9" fill="#c6c6c6" opacity="0.7"/><circle cx="361.4" cy="330.9" r="2.8" fill="#f4f4f4" opacity="0.9"/><circle cx="361.9" cy="330.4" r="1.75" fill="#1e1e1e"/><circle cx="373" cy="329.8" r="2.9" fill="#c6c6c6" opacity="0.7"/><circle cx="371.9" cy="330.9" r="2.8" fill="#f4f4f4" opacity="0.9"/><circle cx="372.4" cy="330.4" r="1.75" fill="#1e1e1e"/><circle cx="383.5" cy="329.8" r="2.9" fill="#c6c6c6" opacity="0.7"/><circle cx="382.4" cy="330.9" r="2.8" fill="#f4f4f4" opacity="0.9"/><circle cx="382.9" cy="330.4" r="1.75" fill="#1e1e1e"/><circle cx="394" cy="329.8" r="2.9" fill="#c6c6c6" opacity="0.7"/><circle cx="392.9" cy="330.9" r="2.8" fill="#f4f4f4" opacity="0.9"/><circle cx="393.4" cy="330.4" r="1.75" fill="#1e1e1e"/><circle cx="404.5" cy="329.8" r="2.9" fill="#c6c6c6" opacity="0.7"/><circle cx="403.4" cy="330.9" r="2.8" fill="#f4f4f4" opacity="0.9"/><circle cx="403.9" cy="330.4" r="1.75" fill="#1e1e1e"/><circle cx="436" cy="329.8" r="2.9" fill="#c6c6c6" opacity="0.7"/><circle cx="434.9" cy="330.9" r="2.8" fill="#f4f4f4" opacity="0.9"/><circle cx="435.4" cy="330.4" r="1.75" fill="#1e1e1e"/><circle cx="446.5" cy="329.8" r="2.9" fill="#c6c6c6" opacity="0.7"/><circle cx="445.4" cy="330.9" r="2.8" fill="#f4f4f4" opacity="0.9"/><circle cx="445.9" cy="330.4" r="1.75" fill="#1e1e1e"/><circle cx="457" cy="329.8" r="2.9" fill="#c6c6c6" opacity="0.7"/><circle cx="455.9" cy="330.9" r="2.8" fill="#f4f4f4" opacity="0.9"/><circle cx="456.4" cy="330.4" r="1.75" fill="#1e1e1e"/><circle cx="467.5" cy="329.8" r="2.9" fill="#c6c6c6" opacity="0.7"/><circle cx="466.4" cy="330.9" r="2.8" fill="#f4f4f4" opacity="0.9"/><circle cx="466.9" cy="330.4" r="1.75" fill="#1e1e1e"/><circle cx="478" cy="329.8" r="2.9" fill="#c6c6c6" opacity="0.7"/><circle cx="476.9" cy="330.9" r="2.8" fill="#f4f4f4" opacity="0.9"/><circle cx="477.4" cy="330.4" r="1.75" fill="#1e1e1e"/><circle cx="362.5" cy="340.3" r="2.9" fill="#c6c6c6" opacity="0.7"/><circle cx="361.4" cy="341.4" r="2.8" fill="#f4f4f4" opacity="0.9"/><circle cx="361.9" cy="340.9" r="1.75" fill="#1e1e1e"/><circle cx="373" cy="340.3" r="2.9" fill="#c6c6c6" opacity="0.7"/><circle cx="371.9" cy="341.4" r="2.8" fill="#f4f4f4" opacity="0.9"/><circle cx="372.4" cy="340.9" r="1.75" fill="#1e1e1e"/><circle cx="383.5" cy="340.3" r="2.9" fill="#c6c6c6" opacity="0.7"/><circle cx="382.4" cy="341.4" r="2.8" fill="#f4f4f4" opacity="0.9"/><circle cx="382.9" cy="340.9" r="1.75" fill="#1e1e1e"/><circle cx="394" cy="340.3" r="2.9" fill="#c6c6c6" opacity="0.7"/><circle cx="392.9" cy="341.4" r="2.8" fill="#f4f4f4" opacity="0.9"/><circle cx="393.4" cy="340.9" r="1.75" fill="#1e1e1e"/><circle cx="404.5" cy="340.3" r="2.9" fill="#c6c6c6" opacity="0.7"/><circle cx="403.4" cy="341.4" r="2.8" fill="#f4f4f4" opacity="0.9"/><circle cx="403.9" cy="340.9" r="1.75" fill="#1e1e1e"/><circle cx="436" cy="340.3" r="2.9" fill="#c6c6c6" opacity="0.7"/><circle cx="434.9" cy="341.4" r="2.8" fill="#f4f4f4" opacity="0.9"/><circle cx="435.4" cy="340.9" r="1.75" fill="#1e1e1e"/><circle cx="446.5" cy="340.3" r="2.9" fill="#c6c6c6" opacity="0.7"/><circle cx="445.4" cy="341.4" r="2.8" fill="#f4f4f4" opacity="0.9"/><circle cx="445.9" cy="340.9" r="1.75" fill="#1e1e1e"/><circle cx="457" cy="340.3" r="2.9" fill="#c6c6c6" opacity="0.7"/><circle cx="455.9" cy="341.4" r="2.8" fill="#f4f4f4" opacity="0.9"/><circle cx="456.4" cy="340.9" r="1.75" fill="#1e1e1e"/><circle cx="467.5" cy="340.3" r="2.9" fill="#c6c6c6" opacity="0.7"/><circle cx="466.4" cy="341.4" r="2.8" fill="#f4f4f4" opacity="0.9"/><circle cx="466.9" cy="340.9" r="1.75" fill="#1e1e1e"/><circle cx="478" cy="340.3" r="2.9" fill="#c6c6c6" opacity="0.7"/><circle cx="476.9" cy="341.4" r="2.8" fill="#f4f4f4" opacity="0.9"/><circle cx="477.4" cy="340.9" r="1.75" fill="#1e1e1e"/><circle cx="362.5" cy="350.8" r="2.9" fill="#c6c6c6" opacity="0.7"/><circle cx="361.4" cy="351.9" r="2.8" fill="#f4f4f4" opacity="0.9"/><circle cx="361.9" cy="351.4" r="1.75" fill="#1e1e1e"/><circle cx="373" cy="350.8" r="2.9" fill="#c6c6c6" opacity="0.7"/><circle cx="371.9" cy="351.9" r="2.8" fill="#f4f4f4" opacity="0.9"/><circle cx="372.4" cy="351.4" r="1.75" fill="#1e1e1e"/><circle cx="383.5" cy="350.8" r="2.9" fill="#c6c6c6" opacity="0.7"/><circle cx="382.4" cy="351.9" r="2.8" fill="#f4f4f4" opacity="0.9"/><circle cx="382.9" cy="351.4" r="1.75" fill="#1e1e1e"/><circle cx="394" cy="350.8" r="2.9" fill="#c6c6c6" opacity="0.7"/><circle cx="392.9" cy="351.9" r="2.8" fill="#f4f4f4" opacity="0.9"/><circle cx="393.4" cy="351.4" r="1.75" fill="#1e1e1e"/><circle cx="404.5" cy="350.8" r="2.9" fill="#c6c6c6" opacity="0.7"/><circle cx="403.4" cy="351.9" r="2.8" fill="#f4f4f4" opacity="0.9"/><circle cx="403.9" cy="351.4" r="1.75" fill="#1e1e1e"/><circle cx="436" cy="350.8" r="2.9" fill="#c6c6c6" opacity="0.7"/><circle cx="434.9" cy="351.9" r="2.8" fill="#f4f4f4" opacity="0.9"/><circle cx="435.4" cy="351.4" r="1.75" fill="#1e1e1e"/><circle cx="446.5" cy="350.8" r="2.9" fill="#c6c6c6" opacity="0.7"/><circle cx="445.4" cy="351.9" r="2.8" fill="#f4f4f4" opacity="0.9"/><circle cx="445.9" cy="351.4" r="1.75" fill="#1e1e1e"/><circle cx="457" cy="350.8" r="2.9" fill="#c6c6c6" opacity="0.7"/><circle cx="455.9" cy="351.9" r="2.8" fill="#f4f4f4" opacity="0.9"/><circle cx="456.4" cy="351.4" r="1.75" fill="#1e1e1e"/><circle cx="467.5" cy="350.8" r="2.9" fill="#c6c6c6" opacity="0.7"/><circle cx="466.4" cy="351.9" r="2.8" fill="#f4f4f4" opacity="0.9"/><circle cx="466.9" cy="351.4" r="1.75" fill="#1e1e1e"/><circle cx="478" cy="350.8" r="2.9" fill="#c6c6c6" opacity="0.7"/><circle cx="476.9" cy="351.9" r="2.8" fill="#f4f4f4" opacity="0.9"/><circle cx="477.4" cy="351.4" r="1.75" fill="#1e1e1e"/><circle cx="362.5" cy="361.3" r="2.9" fill="#c6c6c6" opacity="0.7"/><circle cx="361.4" cy="362.4" r="2.8" fill="#f4f4f4" opacity="0.9"/><circle cx="361.9" cy="361.9" r="1.75" fill="#1e1e1e"/><circle cx="373" cy="361.3" r="2.9" fill="#c6c6c6" opacity="0.7"/><circle cx="371.9" cy="362.4" r="2.8" fill="#f4f4f4" opacity="0.9"/><circle cx="372.4" cy="361.9" r="1.75" fill="#1e1e1e"/><circle cx="383.5" cy="361.3" r="2.9" fill="#c6c6c6" opacity="0.7"/><circle cx="382.4" cy="362.4" r="2.8" fill="#f4f4f4" opacity="0.9"/><circle cx="382.9" cy="361.9" r="1.75" fill="#1e1e1e"/><circle cx="394" cy="361.3" r="2.9" fill="#c6c6c6" opacity="0.7"/><circle cx="392.9" cy="362.4" r="2.8" fill="#f4f4f4" opacity="0.9"/><circle cx="393.4" cy="361.9" r="1.75" fill="#1e1e1e"/><circle cx="404.5" cy="361.3" r="2.9" fill="#c6c6c6" opacity="0.7"/><circle cx="403.4" cy="362.4" r="2.8" fill="#f4f4f4" opacity="0.9"/><circle cx="403.9" cy="361.9" r="1.75" fill="#1e1e1e"/><circle cx="436" cy="361.3" r="2.9" fill="#c6c6c6" opacity="0.7"/><circle cx="434.9" cy="362.4" r="2.8" fill="#f4f4f4" opacity="0.9"/><circle cx="435.4" cy="361.9" r="1.75" fill="#1e1e1e"/><circle cx="446.5" cy="361.3" r="2.9" fill="#c6c6c6" opacity="0.7"/><circle cx="445.4" cy="362.4" r="2.8" fill="#f4f4f4" opacity="0.9"/><circle cx="445.9" cy="361.9" r="1.75" fill="#1e1e1e"/><circle cx="457" cy="361.3" r="2.9" fill="#c6c6c6" opacity="0.7"/><circle cx="455.9" cy="362.4" r="2.8" fill="#f4f4f4" opacity="0.9"/><circle cx="456.4" cy="361.9" r="1.75" fill="#1e1e1e"/><circle cx="467.5" cy="361.3" r="2.9" fill="#c6c6c6" opacity="0.7"/><circle cx="466.4" cy="362.4" r="2.8" fill="#f4f4f4" opacity="0.9"/><circle cx="466.9" cy="361.9" r="1.75" fill="#1e1e1e"/><circle cx="478" cy="361.3" r="2.9" fill="#c6c6c6" opacity="0.7"/><circle cx="476.9" cy="362.4" r="2.8" fill="#f4f4f4" opacity="0.9"/><circle cx="477.4" cy="361.9" r="1.75" fill="#1e1e1e"/><circle cx="362.5" cy="371.8" r="2.9" fill="#c6c6c6" opacity="0.7"/><circle cx="361.4" cy="372.9" r="2.8" fill="#f4f4f4" opacity="0.9"/><circle cx="361.9" cy="372.4" r="1.75" fill="#1e1e1e"/><circle cx="373" cy="371.8" r="2.9" fill="#c6c6c6" opacity="0.7"/><circle cx="371.9" cy="372.9" r="2.8" fill="#f4f4f4" opacity="0.9"/><circle cx="372.4" cy="372.4" r="1.75" fill="#1e1e1e"/><circle cx="383.5" cy="371.8" r="2.9" fill="#c6c6c6" opacity="0.7"/><circle cx="382.4" cy="372.9" r="2.8" fill="#f4f4f4" opacity="0.9"/><circle cx="382.9" cy="372.4" r="1.75" fill="#1e1e1e"/><circle cx="394" cy="371.8" r="2.9" fill="#c6c6c6" opacity="0.7"/><circle cx="392.9" cy="372.9" r="2.8" fill="#f4f4f4" opacity="0.9"/><circle cx="393.4" cy="372.4" r="1.75" fill="#1e1e1e"/><circle cx="404.5" cy="371.8" r="2.9" fill="#c6c6c6" opacity="0.7"/><circle cx="403.4" cy="372.9" r="2.8" fill="#f4f4f4" opacity="0.9"/><circle cx="403.9" cy="372.4" r="1.75" fill="#1e1e1e"/><circle cx="436" cy="371.8" r="2.9" fill="#c6c6c6" opacity="0.7"/><circle cx="434.9" cy="372.9" r="2.8" fill="#f4f4f4" opacity="0.9"/><circle cx="435.4" cy="372.4" r="1.75" fill="#1e1e1e"/><circle cx="446.5" cy="371.8" r="2.9" fill="#c6c6c6" opacity="0.7"/><circle cx="445.4" cy="372.9" r="2.8" fill="#f4f4f4" opacity="0.9"/><circle cx="445.9" cy="372.4" r="1.75" fill="#1e1e1e"/><circle cx="457" cy="371.8" r="2.9" fill="#c6c6c6" opacity="0.7"/><circle cx="455.9" cy="372.9" r="2.8" fill="#f4f4f4" opacity="0.9"/><circle cx="456.4" cy="372.4" r="1.75" fill="#1e1e1e"/><circle cx="467.5" cy="371.8" r="2.9" fill="#c6c6c6" opacity="0.7"/><circle cx="466.4" cy="372.9" r="2.8" fill="#f4f4f4" opacity="0.9"/><circle cx="466.9" cy="372.4" r="1.75" fill="#1e1e1e"/><circle cx="478" cy="371.8" r="2.9" fill="#c6c6c6" opacity="0.7"/><circle cx="476.9" cy="372.9" r="2.8" fill="#f4f4f4" opacity="0.9"/><circle cx="477.4" cy="372.4" r="1.75" fill="#1e1e1e"/><circle cx="362.5" cy="382.3" r="2.9" fill="#c6c6c6" opacity="0.7"/><circle cx="361.4" cy="383.4" r="2.8" fill="#f4f4f4" opacity="0.9"/><circle cx="361.9" cy="382.9" r="1.75" fill="#1e1e1e"/><circle cx="373" cy="382.3" r="2.9" fill="#c6c6c6" opacity="0.7"/><circle cx="371.9" cy="383.4" r="2.8" fill="#f4f4f4" opacity="0.9"/><circle cx="372.4" cy="382.9" r="1.75" fill="#1e1e1e"/><circle cx="383.5" cy="382.3" r="2.9" fill="#c6c6c6" opacity="0.7"/><circle cx="382.4" cy="383.4" r="2.8" fill="#f4f4f4" opacity="0.9"/><circle cx="382.9" cy="382.9" r="1.75" fill="#1e1e1e"/><circle cx="394" cy="382.3" r="2.9" fill="#c6c6c6" opacity="0.7"/><circle cx="392.9" cy="383.4" r="2.8" fill="#f4f4f4" opacity="0.9"/><circle cx="393.4" cy="382.9" r="1.75" fill="#1e1e1e"/><circle cx="404.5" cy="382.3" r="2.9" fill="#c6c6c6" opacity="0.7"/><circle cx="403.4" cy="383.4" r="2.8" fill="#f4f4f4" opacity="0.9"/><circle cx="403.9" cy="382.9" r="1.75" fill="#1e1e1e"/><circle cx="436" cy="382.3" r="2.9" fill="#c6c6c6" opacity="0.7"/><circle cx="434.9" cy="383.4" r="2.8" fill="#f4f4f4" opacity="0.9"/><circle cx="435.4" cy="382.9" r="1.75" fill="#1e1e1e"/><circle cx="446.5" cy="382.3" r="2.9" fill="#c6c6c6" opacity="0.7"/><circle cx="445.4" cy="383.4" r="2.8" fill="#f4f4f4" opacity="0.9"/><circle cx="445.9" cy="382.9" r="1.75" fill="#1e1e1e"/><circle cx="457" cy="382.3" r="2.9" fill="#c6c6c6" opacity="0.7"/><circle cx="455.9" cy="383.4" r="2.8" fill="#f4f4f4" opacity="0.9"/><circle cx="456.4" cy="382.9" r="1.75" fill="#1e1e1e"/><circle cx="467.5" cy="382.3" r="2.9" fill="#c6c6c6" opacity="0.7"/><circle cx="466.4" cy="383.4" r="2.8" fill="#f4f4f4" opacity="0.9"/><circle cx="466.9" cy="382.9" r="1.75" fill="#1e1e1e"/><circle cx="478" cy="382.3" r="2.9" fill="#c6c6c6" opacity="0.7"/><circle cx="476.9" cy="383.4" r="2.8" fill="#f4f4f4" opacity="0.9"/><circle cx="477.4" cy="382.9" r="1.75" fill="#1e1e1e"/><circle cx="320.6" cy="81.5" r="2.9" fill="#c6c6c6" opacity="0.7"/><circle cx="319.5" cy="82.6" r="2.8" fill="#f4f4f4" opacity="0.9"/><circle cx="320" cy="82.1" r="1.75" fill="#1e1e1e"/><circle cx="331.1" cy="81.5" r="2.9" fill="#c6c6c6" opacity="0.7"/><circle cx="330" cy="82.6" r="2.8" fill="#f4f4f4" opacity="0.9"/><circle cx="330.5" cy="82.1" r="1.75" fill="#1e1e1e"/><circle cx="509.7" cy="81.5" r="2.9" fill="#c6c6c6" opacity="0.7"/><circle cx="508.6" cy="82.6" r="2.8" fill="#f4f4f4" opacity="0.9"/><circle cx="509.1" cy="82.1" r="1.75" fill="#1e1e1e"/><circle cx="520.3" cy="81.5" r="2.9" fill="#c6c6c6" opacity="0.7"/><circle cx="519.2" cy="82.6" r="2.8" fill="#f4f4f4" opacity="0.9"/><circle cx="519.7" cy="82.1" r="1.75" fill="#1e1e1e"/><circle cx="320.6" cy="92" r="2.9" fill="#c6c6c6" opacity="0.7"/><circle cx="319.5" cy="93.1" r="2.8" fill="#f4f4f4" opacity="0.9"/><circle cx="320" cy="92.6" r="1.75" fill="#1e1e1e"/><circle cx="331.1" cy="92" r="2.9" fill="#c6c6c6" opacity="0.7"/><circle cx="330" cy="93.1" r="2.8" fill="#f4f4f4" opacity="0.9"/><circle cx="330.5" cy="92.6" r="1.75" fill="#1e1e1e"/><circle cx="509.7" cy="92" r="2.9" fill="#c6c6c6" opacity="0.7"/><circle cx="508.6" cy="93.1" r="2.8" fill="#f4f4f4" opacity="0.9"/><circle cx="509.1" cy="92.6" r="1.75" fill="#1e1e1e"/><circle cx="520.3" cy="92" r="2.9" fill="#c6c6c6" opacity="0.7"/><circle cx="519.2" cy="93.1" r="2.8" fill="#f4f4f4" opacity="0.9"/><circle cx="519.7" cy="92.6" r="1.75" fill="#1e1e1e"/><circle cx="320.6" cy="102.5" r="2.9" fill="#c6c6c6" opacity="0.7"/><circle cx="319.5" cy="103.6" r="2.8" fill="#f4f4f4" opacity="0.9"/><circle cx="320" cy="103.1" r="1.75" fill="#1e1e1e"/><circle cx="331.1" cy="102.5" r="2.9" fill="#c6c6c6" opacity="0.7"/><circle cx="330" cy="103.6" r="2.8" fill="#f4f4f4" opacity="0.9"/><circle cx="330.5" cy="103.1" r="1.75" fill="#1e1e1e"/><circle cx="509.7" cy="102.5" r="2.9" fill="#c6c6c6" opacity="0.7"/><circle cx="508.6" cy="103.6" r="2.8" fill="#f4f4f4" opacity="0.9"/><circle cx="509.1" cy="103.1" r="1.75" fill="#1e1e1e"/><circle cx="520.3" cy="102.5" r="2.9" fill="#c6c6c6" opacity="0.7"/><circle cx="519.2" cy="103.6" r="2.8" fill="#f4f4f4" opacity="0.9"/><circle cx="519.7" cy="103.1" r="1.75" fill="#1e1e1e"/><circle cx="320.6" cy="113" r="2.9" fill="#c6c6c6" opacity="0.7"/><circle cx="319.5" cy="114.1" r="2.8" fill="#f4f4f4" opacity="0.9"/><circle cx="320" cy="113.6" r="1.75" fill="#1e1e1e"/><circle cx="331.1" cy="113" r="2.9" fill="#c6c6c6" opacity="0.7"/><circle cx="330" cy="114.1" r="2.8" fill="#f4f4f4" opacity="0.9"/><circle cx="330.5" cy="113.6" r="1.75" fill="#1e1e1e"/><circle cx="509.7" cy="113" r="2.9" fill="#c6c6c6" opacity="0.7"/><circle cx="508.6" cy="114.1" r="2.8" fill="#f4f4f4" opacity="0.9"/><circle cx="509.1" cy="113.6" r="1.75" fill="#1e1e1e"/><circle cx="520.3" cy="113" r="2.9" fill="#c6c6c6" opacity="0.7"/><circle cx="519.2" cy="114.1" r="2.8" fill="#f4f4f4" opacity="0.9"/><circle cx="519.7" cy="113.6" r="1.75" fill="#1e1e1e"/><circle cx="320.6" cy="123.5" r="2.9" fill="#c6c6c6" opacity="0.7"/><circle cx="319.5" cy="124.6" r="2.8" fill="#f4f4f4" opacity="0.9"/><circle cx="320" cy="124.1" r="1.75" fill="#1e1e1e"/><circle cx="331.1" cy="123.5" r="2.9" fill="#c6c6c6" opacity="0.7"/><circle cx="330" cy="124.6" r="2.8" fill="#f4f4f4" opacity="0.9"/><circle cx="330.5" cy="124.1" r="1.75" fill="#1e1e1e"/><circle cx="509.7" cy="123.5" r="2.9" fill="#c6c6c6" opacity="0.7"/><circle cx="508.6" cy="124.6" r="2.8" fill="#f4f4f4" opacity="0.9"/><circle cx="509.1" cy="124.1" r="1.75" fill="#1e1e1e"/><circle cx="520.3" cy="123.5" r="2.9" fill="#c6c6c6" opacity="0.7"/><circle cx="519.2" cy="124.6" r="2.8" fill="#f4f4f4" opacity="0.9"/><circle cx="519.7" cy="124.1" r="1.75" fill="#1e1e1e"/><circle cx="320.6" cy="144.5" r="2.9" fill="#c6c6c6" opacity="0.7"/><circle cx="319.5" cy="145.6" r="2.8" fill="#f4f4f4" opacity="0.9"/><circle cx="320" cy="145.1" r="1.75" fill="#1e1e1e"/><circle cx="331.1" cy="144.5" r="2.9" fill="#c6c6c6" opacity="0.7"/><circle cx="330" cy="145.6" r="2.8" fill="#f4f4f4" opacity="0.9"/><circle cx="330.5" cy="145.1" r="1.75" fill="#1e1e1e"/><circle cx="509.7" cy="144.5" r="2.9" fill="#c6c6c6" opacity="0.7"/><circle cx="508.6" cy="145.6" r="2.8" fill="#f4f4f4" opacity="0.9"/><circle cx="509.1" cy="145.1" r="1.75" fill="#1e1e1e"/><circle cx="520.3" cy="144.5" r="2.9" fill="#c6c6c6" opacity="0.7"/><circle cx="519.2" cy="145.6" r="2.8" fill="#f4f4f4" opacity="0.9"/><circle cx="519.7" cy="145.1" r="1.75" fill="#1e1e1e"/><circle cx="320.6" cy="155" r="2.9" fill="#c6c6c6" opacity="0.7"/><circle cx="319.5" cy="156.1" r="2.8" fill="#f4f4f4" opacity="0.9"/><circle cx="320" cy="155.6" r="1.75" fill="#1e1e1e"/><circle cx="331.1" cy="155" r="2.9" fill="#c6c6c6" opacity="0.7"/><circle cx="330" cy="156.1" r="2.8" fill="#f4f4f4" opacity="0.9"/><circle cx="330.5" cy="155.6" r="1.75" fill="#1e1e1e"/><circle cx="509.7" cy="155" r="2.9" fill="#c6c6c6" opacity="0.7"/><circle cx="508.6" cy="156.1" r="2.8" fill="#f4f4f4" opacity="0.9"/><circle cx="509.1" cy="155.6" r="1.75" fill="#1e1e1e"/><circle cx="520.3" cy="155" r="2.9" fill="#c6c6c6" opacity="0.7"/><circle cx="519.2" cy="156.1" r="2.8" fill="#f4f4f4" opacity="0.9"/><circle cx="519.7" cy="155.6" r="1.75" fill="#1e1e1e"/><circle cx="320.6" cy="165.5" r="2.9" fill="#c6c6c6" opacity="0.7"/><circle cx="319.5" cy="166.6" r="2.8" fill="#f4f4f4" opacity="0.9"/><circle cx="320" cy="166.1" r="1.75" fill="#1e1e1e"/><circle cx="331.1" cy="165.5" r="2.9" fill="#c6c6c6" opacity="0.7"/><circle cx="330" cy="166.6" r="2.8" fill="#f4f4f4" opacity="0.9"/><circle cx="330.5" cy="166.1" r="1.75" fill="#1e1e1e"/><circle cx="509.7" cy="165.5" r="2.9" fill="#c6c6c6" opacity="0.7"/><circle cx="508.6" cy="166.6" r="2.8" fill="#f4f4f4" opacity="0.9"/><circle cx="509.1" cy="166.1" r="1.75" fill="#1e1e1e"/><circle cx="520.3" cy="165.5" r="2.9" fill="#c6c6c6" opacity="0.7"/><circle cx="519.2" cy="166.6" r="2.8" fill="#f4f4f4" opacity="0.9"/><circle cx="519.7" cy="166.1" r="1.75" fill="#1e1e1e"/><circle cx="320.6" cy="176" r="2.9" fill="#c6c6c6" opacity="0.7"/><circle cx="319.5" cy="177.1" r="2.8" fill="#f4f4f4" opacity="0.9"/><circle cx="320" cy="176.6" r="1.75" fill="#1e1e1e"/><circle cx="331.1" cy="176" r="2.9" fill="#c6c6c6" opacity="0.7"/><circle cx="330" cy="177.1" r="2.8" fill="#f4f4f4" opacity="0.9"/><circle cx="330.5" cy="176.6" r="1.75" fill="#1e1e1e"/><circle cx="509.7" cy="176" r="2.9" fill="#c6c6c6" opacity="0.7"/><circle cx="508.6" cy="177.1" r="2.8" fill="#f4f4f4" opacity="0.9"/><circle cx="509.1" cy="176.6" r="1.75" fill="#1e1e1e"/><circle cx="520.3" cy="176" r="2.9" fill="#c6c6c6" opacity="0.7"/><circle cx="519.2" cy="177.1" r="2.8" fill="#f4f4f4" opacity="0.9"/><circle cx="519.7" cy="176.6" r="1.75" fill="#1e1e1e"/><circle cx="320.6" cy="186.5" r="2.9" fill="#c6c6c6" opacity="0.7"/><circle cx="319.5" cy="187.6" r="2.8" fill="#f4f4f4" opacity="0.9"/><circle cx="320" cy="187.1" r="1.75" fill="#1e1e1e"/><circle cx="331.1" cy="186.5" r="2.9" fill="#c6c6c6" opacity="0.7"/><circle cx="330" cy="187.6" r="2.8" fill="#f4f4f4" opacity="0.9"/><circle cx="330.5" cy="187.1" r="1.75" fill="#1e1e1e"/><circle cx="509.7" cy="186.5" r="2.9" fill="#c6c6c6" opacity="0.7"/><circle cx="508.6" cy="187.6" r="2.8" fill="#f4f4f4" opacity="0.9"/><circle cx="509.1" cy="187.1" r="1.75" fill="#1e1e1e"/><circle cx="520.3" cy="186.5" r="2.9" fill="#c6c6c6" opacity="0.7"/><circle cx="519.2" cy="187.6" r="2.8" fill="#f4f4f4" opacity="0.9"/><circle cx="519.7" cy="187.1" r="1.75" fill="#1e1e1e"/><circle cx="320.6" cy="207.5" r="2.9" fill="#c6c6c6" opacity="0.7"/><circle cx="319.5" cy="208.6" r="2.8" fill="#f4f4f4" opacity="0.9"/><circle cx="320" cy="208.1" r="1.75" fill="#1e1e1e"/><circle cx="331.1" cy="207.5" r="2.9" fill="#c6c6c6" opacity="0.7"/><circle cx="330" cy="208.6" r="2.8" fill="#f4f4f4" opacity="0.9"/><circle cx="330.5" cy="208.1" r="1.75" fill="#1e1e1e"/><circle cx="509.7" cy="207.5" r="2.9" fill="#c6c6c6" opacity="0.7"/><circle cx="508.6" cy="208.6" r="2.8" fill="#f4f4f4" opacity="0.9"/><circle cx="509.1" cy="208.1" r="1.75" fill="#1e1e1e"/><circle cx="520.3" cy="207.5" r="2.9" fill="#c6c6c6" opacity="0.7"/><circle cx="519.2" cy="208.6" r="2.8" fill="#f4f4f4" opacity="0.9"/><circle cx="519.7" cy="208.1" r="1.75" fill="#1e1e1e"/><circle cx="320.6" cy="218" r="2.9" fill="#c6c6c6" opacity="0.7"/><circle cx="319.5" cy="219.1" r="2.8" fill="#f4f4f4" opacity="0.9"/><circle cx="320" cy="218.6" r="1.75" fill="#1e1e1e"/><circle cx="331.1" cy="218" r="2.9" fill="#c6c6c6" opacity="0.7"/><circle cx="330" cy="219.1" r="2.8" fill="#f4f4f4" opacity="0.9"/><circle cx="330.5" cy="218.6" r="1.75" fill="#1e1e1e"/><circle cx="509.7" cy="218" r="2.9" fill="#c6c6c6" opacity="0.7"/><circle cx="508.6" cy="219.1" r="2.8" fill="#f4f4f4" opacity="0.9"/><circle cx="509.1" cy="218.6" r="1.75" fill="#1e1e1e"/><circle cx="520.3" cy="218" r="2.9" fill="#c6c6c6" opacity="0.7"/><circle cx="519.2" cy="219.1" r="2.8" fill="#f4f4f4" opacity="0.9"/><circle cx="519.7" cy="218.6" r="1.75" fill="#1e1e1e"/><circle cx="320.6" cy="228.5" r="2.9" fill="#c6c6c6" opacity="0.7"/><circle cx="319.5" cy="229.6" r="2.8" fill="#f4f4f4" opacity="0.9"/><circle cx="320" cy="229.1" r="1.75" fill="#1e1e1e"/><circle cx="331.1" cy="228.5" r="2.9" fill="#c6c6c6" opacity="0.7"/><circle cx="330" cy="229.6" r="2.8" fill="#f4f4f4" opacity="0.9"/><circle cx="330.5" cy="229.1" r="1.75" fill="#1e1e1e"/><circle cx="509.7" cy="228.5" r="2.9" fill="#c6c6c6" opacity="0.7"/><circle cx="508.6" cy="229.6" r="2.8" fill="#f4f4f4" opacity="0.9"/><circle cx="509.1" cy="229.1" r="1.75" fill="#1e1e1e"/><circle cx="520.3" cy="228.5" r="2.9" fill="#c6c6c6" opacity="0.7"/><circle cx="519.2" cy="229.6" r="2.8" fill="#f4f4f4" opacity="0.9"/><circle cx="519.7" cy="229.1" r="1.75" fill="#1e1e1e"/><circle cx="320.6" cy="239" r="2.9" fill="#c6c6c6" opacity="0.7"/><circle cx="319.5" cy="240.1" r="2.8" fill="#f4f4f4" opacity="0.9"/><circle cx="320" cy="239.6" r="1.75" fill="#1e1e1e"/><circle cx="331.1" cy="239" r="2.9" fill="#c6c6c6" opacity="0.7"/><circle cx="330" cy="240.1" r="2.8" fill="#f4f4f4" opacity="0.9"/><circle cx="330.5" cy="239.6" r="1.75" fill="#1e1e1e"/><circle cx="509.7" cy="239" r="2.9" fill="#c6c6c6" opacity="0.7"/><circle cx="508.6" cy="240.1" r="2.8" fill="#f4f4f4" opacity="0.9"/><circle cx="509.1" cy="239.6" r="1.75" fill="#1e1e1e"/><circle cx="520.3" cy="239" r="2.9" fill="#c6c6c6" opacity="0.7"/><circle cx="519.2" cy="240.1" r="2.8" fill="#f4f4f4" opacity="0.9"/><circle cx="519.7" cy="239.6" r="1.75" fill="#1e1e1e"/><circle cx="320.6" cy="249.5" r="2.9" fill="#c6c6c6" opacity="0.7"/><circle cx="319.5" cy="250.6" r="2.8" fill="#f4f4f4" opacity="0.9"/><circle cx="320" cy="250.1" r="1.75" fill="#1e1e1e"/><circle cx="331.1" cy="249.5" r="2.9" fill="#c6c6c6" opacity="0.7"/><circle cx="330" cy="250.6" r="2.8" fill="#f4f4f4" opacity="0.9"/><circle cx="330.5" cy="250.1" r="1.75" fill="#1e1e1e"/><circle cx="509.7" cy="249.5" r="2.9" fill="#c6c6c6" opacity="0.7"/><circle cx="508.6" cy="250.6" r="2.8" fill="#f4f4f4" opacity="0.9"/><circle cx="509.1" cy="250.1" r="1.75" fill="#1e1e1e"/><circle cx="520.3" cy="249.5" r="2.9" fill="#c6c6c6" opacity="0.7"/><circle cx="519.2" cy="250.6" r="2.8" fill="#f4f4f4" opacity="0.9"/><circle cx="519.7" cy="250.1" r="1.75" fill="#1e1e1e"/><circle cx="320.6" cy="270.5" r="2.9" fill="#c6c6c6" opacity="0.7"/><circle cx="319.5" cy="271.6" r="2.8" fill="#f4f4f4" opacity="0.9"/><circle cx="320" cy="271.1" r="1.75" fill="#1e1e1e"/><circle cx="331.1" cy="270.5" r="2.9" fill="#c6c6c6" opacity="0.7"/><circle cx="330" cy="271.6" r="2.8" fill="#f4f4f4" opacity="0.9"/><circle cx="330.5" cy="271.1" r="1.75" fill="#1e1e1e"/><circle cx="509.7" cy="270.5" r="2.9" fill="#c6c6c6" opacity="0.7"/><circle cx="508.6" cy="271.6" r="2.8" fill="#f4f4f4" opacity="0.9"/><circle cx="509.1" cy="271.1" r="1.75" fill="#1e1e1e"/><circle cx="520.3" cy="270.5" r="2.9" fill="#c6c6c6" opacity="0.7"/><circle cx="519.2" cy="271.6" r="2.8" fill="#f4f4f4" opacity="0.9"/><circle cx="519.7" cy="271.1" r="1.75" fill="#1e1e1e"/><circle cx="320.6" cy="281" r="2.9" fill="#c6c6c6" opacity="0.7"/><circle cx="319.5" cy="282.1" r="2.8" fill="#f4f4f4" opacity="0.9"/><circle cx="320" cy="281.6" r="1.75" fill="#1e1e1e"/><circle cx="331.1" cy="281" r="2.9" fill="#c6c6c6" opacity="0.7"/><circle cx="330" cy="282.1" r="2.8" fill="#f4f4f4" opacity="0.9"/><circle cx="330.5" cy="281.6" r="1.75" fill="#1e1e1e"/><circle cx="509.7" cy="281" r="2.9" fill="#c6c6c6" opacity="0.7"/><circle cx="508.6" cy="282.1" r="2.8" fill="#f4f4f4" opacity="0.9"/><circle cx="509.1" cy="281.6" r="1.75" fill="#1e1e1e"/><circle cx="520.3" cy="281" r="2.9" fill="#c6c6c6" opacity="0.7"/><circle cx="519.2" cy="282.1" r="2.8" fill="#f4f4f4" opacity="0.9"/><circle cx="519.7" cy="281.6" r="1.75" fill="#1e1e1e"/><circle cx="320.6" cy="291.5" r="2.9" fill="#c6c6c6" opacity="0.7"/><circle cx="319.5" cy="292.6" r="2.8" fill="#f4f4f4" opacity="0.9"/><circle cx="320" cy="292.1" r="1.75" fill="#1e1e1e"/><circle cx="331.1" cy="291.5" r="2.9" fill="#c6c6c6" opacity="0.7"/><circle cx="330" cy="292.6" r="2.8" fill="#f4f4f4" opacity="0.9"/><circle cx="330.5" cy="292.1" r="1.75" fill="#1e1e1e"/><circle cx="509.7" cy="291.5" r="2.9" fill="#c6c6c6" opacity="0.7"/><circle cx="508.6" cy="292.6" r="2.8" fill="#f4f4f4" opacity="0.9"/><circle cx="509.1" cy="292.1" r="1.75" fill="#1e1e1e"/><circle cx="520.3" cy="291.5" r="2.9" fill="#c6c6c6" opacity="0.7"/><circle cx="519.2" cy="292.6" r="2.8" fill="#f4f4f4" opacity="0.9"/><circle cx="519.7" cy="292.1" r="1.75" fill="#1e1e1e"/><circle cx="320.6" cy="302" r="2.9" fill="#c6c6c6" opacity="0.7"/><circle cx="319.5" cy="303.1" r="2.8" fill="#f4f4f4" opacity="0.9"/><circle cx="320" cy="302.6" r="1.75" fill="#1e1e1e"/><circle cx="331.1" cy="302" r="2.9" fill="#c6c6c6" opacity="0.7"/><circle cx="330" cy="303.1" r="2.8" fill="#f4f4f4" opacity="0.9"/><circle cx="330.5" cy="302.6" r="1.75" fill="#1e1e1e"/><circle cx="509.7" cy="302" r="2.9" fill="#c6c6c6" opacity="0.7"/><circle cx="508.6" cy="303.1" r="2.8" fill="#f4f4f4" opacity="0.9"/><circle cx="509.1" cy="302.6" r="1.75" fill="#1e1e1e"/><circle cx="520.3" cy="302" r="2.9" fill="#c6c6c6" opacity="0.7"/><circle cx="519.2" cy="303.1" r="2.8" fill="#f4f4f4" opacity="0.9"/><circle cx="519.7" cy="302.6" r="1.75" fill="#1e1e1e"/><circle cx="320.6" cy="312.5" r="2.9" fill="#c6c6c6" opacity="0.7"/><circle cx="319.5" cy="313.6" r="2.8" fill="#f4f4f4" opacity="0.9"/><circle cx="320" cy="313.1" r="1.75" fill="#1e1e1e"/><circle cx="331.1" cy="312.5" r="2.9" fill="#c6c6c6" opacity="0.7"/><circle cx="330" cy="313.6" r="2.8" fill="#f4f4f4" opacity="0.9"/><circle cx="330.5" cy="313.1" r="1.75" fill="#1e1e1e"/><circle cx="509.7" cy="312.5" r="2.9" fill="#c6c6c6" opacity="0.7"/><circle cx="508.6" cy="313.6" r="2.8" fill="#f4f4f4" opacity="0.9"/><circle cx="509.1" cy="313.1" r="1.75" fill="#1e1e1e"/><circle cx="520.3" cy="312.5" r="2.9" fill="#c6c6c6" opacity="0.7"/><circle cx="519.2" cy="313.6" r="2.8" fill="#f4f4f4" opacity="0.9"/><circle cx="519.7" cy="313.1" r="1.75" fill="#1e1e1e"/><circle cx="320.6" cy="333.5" r="2.9" fill="#c6c6c6" opacity="0.7"/><circle cx="319.5" cy="334.6" r="2.8" fill="#f4f4f4" opacity="0.9"/><circle cx="320" cy="334.1" r="1.75" fill="#1e1e1e"/><circle cx="331.1" cy="333.5" r="2.9" fill="#c6c6c6" opacity="0.7"/><circle cx="330" cy="334.6" r="2.8" fill="#f4f4f4" opacity="0.9"/><circle cx="330.5" cy="334.1" r="1.75" fill="#1e1e1e"/><circle cx="509.7" cy="333.5" r="2.9" fill="#c6c6c6" opacity="0.7"/><circle cx="508.6" cy="334.6" r="2.8" fill="#f4f4f4" opacity="0.9"/><circle cx="509.1" cy="334.1" r="1.75" fill="#1e1e1e"/><circle cx="520.3" cy="333.5" r="2.9" fill="#c6c6c6" opacity="0.7"/><circle cx="519.2" cy="334.6" r="2.8" fill="#f4f4f4" opacity="0.9"/><circle cx="519.7" cy="334.1" r="1.75" fill="#1e1e1e"/><circle cx="320.6" cy="344" r="2.9" fill="#c6c6c6" opacity="0.7"/><circle cx="319.5" cy="345.1" r="2.8" fill="#f4f4f4" opacity="0.9"/><circle cx="320" cy="344.6" r="1.75" fill="#1e1e1e"/><circle cx="331.1" cy="344" r="2.9" fill="#c6c6c6" opacity="0.7"/><circle cx="330" cy="345.1" r="2.8" fill="#f4f4f4" opacity="0.9"/><circle cx="330.5" cy="344.6" r="1.75" fill="#1e1e1e"/><circle cx="509.7" cy="344" r="2.9" fill="#c6c6c6" opacity="0.7"/><circle cx="508.6" cy="345.1" r="2.8" fill="#f4f4f4" opacity="0.9"/><circle cx="509.1" cy="344.6" r="1.75" fill="#1e1e1e"/><circle cx="520.3" cy="344" r="2.9" fill="#c6c6c6" opacity="0.7"/><circle cx="519.2" cy="345.1" r="2.8" fill="#f4f4f4" opacity="0.9"/><circle cx="519.7" cy="344.6" r="1.75" fill="#1e1e1e"/><circle cx="320.6" cy="354.5" r="2.9" fill="#c6c6c6" opacity="0.7"/><circle cx="319.5" cy="355.6" r="2.8" fill="#f4f4f4" opacity="0.9"/><circle cx="320" cy="355.1" r="1.75" fill="#1e1e1e"/><circle cx="331.1" cy="354.5" r="2.9" fill="#c6c6c6" opacity="0.7"/><circle cx="330" cy="355.6" r="2.8" fill="#f4f4f4" opacity="0.9"/><circle cx="330.5" cy="355.1" r="1.75" fill="#1e1e1e"/><circle cx="509.7" cy="354.5" r="2.9" fill="#c6c6c6" opacity="0.7"/><circle cx="508.6" cy="355.6" r="2.8" fill="#f4f4f4" opacity="0.9"/><circle cx="509.1" cy="355.1" r="1.75" fill="#1e1e1e"/><circle cx="520.3" cy="354.5" r="2.9" fill="#c6c6c6" opacity="0.7"/><circle cx="519.2" cy="355.6" r="2.8" fill="#f4f4f4" opacity="0.9"/><circle cx="519.7" cy="355.1" r="1.75" fill="#1e1e1e"/><circle cx="320.6" cy="365" r="2.9" fill="#c6c6c6" opacity="0.7"/><circle cx="319.5" cy="366.1" r="2.8" fill="#f4f4f4" opacity="0.9"/><circle cx="320" cy="365.6" r="1.75" fill="#1e1e1e"/><circle cx="331.1" cy="365" r="2.9" fill="#c6c6c6" opacity="0.7"/><circle cx="330" cy="366.1" r="2.8" fill="#f4f4f4" opacity="0.9"/><circle cx="330.5" cy="365.6" r="1.75" fill="#1e1e1e"/><circle cx="509.7" cy="365" r="2.9" fill="#c6c6c6" opacity="0.7"/><circle cx="508.6" cy="366.1" r="2.8" fill="#f4f4f4" opacity="0.9"/><circle cx="509.1" cy="365.6" r="1.75" fill="#1e1e1e"/><circle cx="520.3" cy="365" r="2.9" fill="#c6c6c6" opacity="0.7"/><circle cx="519.2" cy="366.1" r="2.8" fill="#f4f4f4" opacity="0.9"/><circle cx="519.7" cy="365.6" r="1.75" fill="#1e1e1e"/><circle cx="320.6" cy="375.5" r="2.9" fill="#c6c6c6" opacity="0.7"/><circle cx="319.5" cy="376.6" r="2.8" fill="#f4f4f4" opacity="0.9"/><circle cx="320" cy="376.1" r="1.75" fill="#1e1e1e"/><circle cx="331.1" cy="375.5" r="2.9" fill="#c6c6c6" opacity="0.7"/><circle cx="330" cy="376.6" r="2.8" fill="#f4f4f4" opacity="0.9"/><circle cx="330.5" cy="376.1" r="1.75" fill="#1e1e1e"/><circle cx="509.7" cy="375.5" r="2.9" fill="#c6c6c6" opacity="0.7"/><circle cx="508.6" cy="376.6" r="2.8" fill="#f4f4f4" opacity="0.9"/><circle cx="509.1" cy="376.1" r="1.75" fill="#1e1e1e"/><circle cx="520.3" cy="375.5" r="2.9" fill="#c6c6c6" opacity="0.7"/><circle cx="519.2" cy="376.6" r="2.8" fill="#f4f4f4" opacity="0.9"/><circle cx="519.7" cy="376.1" r="1.75" fill="#1e1e1e"/></g>
<g font-size="7.2" fill="#b9b9b9" text-anchor="middle">
<text x="361.9" y="71.2">A</text><text x="361.9" y="396.3">A</text>
<text x="372.4" y="71.2">B</text><text x="372.4" y="396.3">B</text>
<text x="382.9" y="71.2">C</text><text x="382.9" y="396.3">C</text>
<text x="393.4" y="71.2">D</text><text x="393.4" y="396.3">D</text>
<text x="403.9" y="71.2">E</text><text x="403.9" y="396.3">E</text>
<text x="435.4" y="71.2">F</text><text x="435.4" y="396.3">F</text>
<text x="445.9" y="71.2">G</text><text x="445.9" y="396.3">G</text>
<text x="456.4" y="71.2">H</text><text x="456.4" y="396.3">H</text>
<text x="466.9" y="71.2">I</text><text x="466.9" y="396.3">I</text>
<text x="477.4" y="71.2">J</text><text x="477.4" y="396.3">J</text>
<text x="345.5" y="81" text-anchor="start">1</text>
<text x="485.5" y="81" text-anchor="start">1</text>
<text x="345.5" y="123" text-anchor="start">5</text>
<text x="485.5" y="123" text-anchor="start">5</text>
<text x="345.5" y="175.5" text-anchor="start">10</text>
<text x="485.5" y="175.5" text-anchor="start">10</text>
<text x="345.5" y="228" text-anchor="start">15</text>
<text x="485.5" y="228" text-anchor="start">15</text>
<text x="345.5" y="280.5" text-anchor="start">20</text>
<text x="485.5" y="280.5" text-anchor="start">20</text>
<text x="485.5" y="333" text-anchor="start">25</text>
<text x="345.5" y="385.5" text-anchor="start">30</text>
<text x="485.5" y="385.5" text-anchor="start">30</text>
</g>
<path d="M28 104.6 H244 V366.2 L238.6 371.6 H191.5 L182 381.8 H46 L28 371.4 Z" fill="#117291"/>
<g fill="#0381a0"><rect x="77.5" y="219.5" width="31.5" height="140.8"/><rect x="83.2" y="115" width="28.9" height="30"/><rect x="86.4" y="110.3" width="22.1" height="5"/><rect x="84.8" y="140" width="5.7" height="13.7" rx="2.8"/><rect x="94.3" y="140" width="5.7" height="13.7" rx="2.8"/><rect x="103.7" y="140" width="5.7" height="13.7" rx="2.8"/><path d="M51.8 158 h9.5 a13.5 14.2 0 0 1 0 28.4 h-9.5 z"/><path d="M51.8 191.8 h9.5 a13.5 14.2 0 0 1 0 28.4 h-9.5 z"/><circle cx="59.9" cy="149.5" r="8"/><circle cx="38.5" cy="137" r="7.5"/><rect x="33.4" y="172.9" width="12.2" height="27.1"/><rect x="94" y="167.4" width="6.2" height="15.3" rx="3.1"/><rect x="105.9" y="167.4" width="6.2" height="15.3" rx="3.1"/><rect x="124.2" y="160.5" width="18.1" height="41.5" rx="9"/><rect x="163" y="168" width="20.4" height="21.3"/><rect x="190" y="148.6" width="4.8" height="14.6" rx="2.4"/><rect x="106.3" y="167.3" width="5.4" height="14" rx="2.7"/><circle cx="155.5" cy="115" r="6"/><circle cx="208.5" cy="115.2" r="6"/><rect x="218.1" y="107.7" width="5.7" height="35.8" rx="2.8"/><rect x="236.8" y="107.7" width="5.6" height="35.8" rx="2.8"/><rect x="117.6" y="338.6" width="20.3" height="7.5"/><rect x="202.7" y="164.2" width="21.3" height="28" rx="4"/><rect x="122.8" y="202.8" width="5.6" height="14.8" rx="2.8"/><rect x="140.6" y="202.8" width="5.9" height="14.8" rx="2.95"/><rect x="149.6" y="202.8" width="5.9" height="14.8" rx="2.95"/><rect x="158.4" y="202.8" width="6.2" height="14.8" rx="3.1"/><rect x="184.6" y="202.8" width="6.3" height="14.8" rx="3.15"/><rect x="202.4" y="202.8" width="5.9" height="14.8" rx="2.95"/><rect x="148" y="242.7" width="6.2" height="15.3" rx="3.1"/><rect x="148" y="263.5" width="6.2" height="15.3" rx="3.1"/><rect x="124.9" y="289.1" width="6.2" height="15.5" rx="3.1"/><rect x="136" y="289.1" width="6.2" height="15.5" rx="3.1"/><rect x="148" y="289.1" width="6.2" height="15.5" rx="3.1"/><rect x="181.5" y="275.7" width="13.5" height="24.8"/></g>
<circle cx="197.8" cy="358.9" r="6" fill="none" stroke="#0381a0" stroke-width="0.9"/><circle cx="197.8" cy="358.9" r="2.1" fill="#0381a0"/>
<circle cx="36.3" cy="113.5" r="4.2" fill="none" stroke="#0381a0" stroke-width="1.6"/>
<rect x="39.2" y="92.6" width="38.4" height="13" fill="#000"/><rect x="41.3" y="104" width="34.1" height="43.8" fill="#000"/>
<rect x="157.5" y="71.4" width="49.2" height="67.1" fill="url(#usb)"/>
<rect x="218.1" y="113.8" width="24.3" height="24" fill="#8e8e8e"/>
<circle cx="230.2" cy="125.6" r="7.2" fill="#3e3e3e"/>
<circle cx="220.7" cy="116.7" r="2.4" fill="#3c3c3c"/>
<circle cx="239.2" cy="116.7" r="2.4" fill="#3c3c3c"/>
<circle cx="220.7" cy="135.2" r="2.4" fill="#3c3c3c"/>
<circle cx="239.2" cy="135.2" r="2.4" fill="#3c3c3c"/>
<circle cx="235" cy="160.6" r="6.6" fill="#fff"/>
<circle cx="59.3" cy="372.6" r="6.2" fill="#fff"/>
<circle cx="172.9" cy="372.2" r="4.4" fill="#fff"/>
<rect x="31.4" y="210.1" width="10.2" height="84" fill="#3a3a3a"/><rect x="34.3" y="213.15" width="4.4" height="4.4" fill="#000"/><rect x="34.3" y="223.65" width="4.4" height="4.4" fill="#000"/><rect x="34.3" y="234.15" width="4.4" height="4.4" fill="#000"/><rect x="34.3" y="244.65" width="4.4" height="4.4" fill="#000"/><rect x="34.3" y="255.15" width="4.4" height="4.4" fill="#000"/><rect x="34.3" y="265.65" width="4.4" height="4.4" fill="#000"/><rect x="34.3" y="276.15" width="4.4" height="4.4" fill="#000"/><rect x="34.3" y="286.65" width="4.4" height="4.4" fill="#000"/>
<rect x="31.4" y="304.6" width="10.2" height="62.82" fill="#3a3a3a"/><rect x="34.3" y="307.64" width="4.4" height="4.4" fill="#000"/><rect x="34.3" y="318.11" width="4.4" height="4.4" fill="#000"/><rect x="34.3" y="328.58" width="4.4" height="4.4" fill="#000"/><rect x="34.3" y="339.05" width="4.4" height="4.4" fill="#000"/><rect x="34.3" y="349.52" width="4.4" height="4.4" fill="#000"/><rect x="34.3" y="359.99" width="4.4" height="4.4" fill="#000"/>
<rect x="231.1" y="167.8" width="10.2" height="104.9" fill="#3a3a3a"/><rect x="234" y="170.85" width="4.4" height="4.4" fill="#000"/><rect x="234" y="181.34" width="4.4" height="4.4" fill="#000"/><rect x="234" y="191.83" width="4.4" height="4.4" fill="#000"/><rect x="234" y="202.32" width="4.4" height="4.4" fill="#000"/><rect x="234" y="212.81" width="4.4" height="4.4" fill="#000"/><rect x="234" y="223.3" width="4.4" height="4.4" fill="#000"/><rect x="234" y="233.79" width="4.4" height="4.4" fill="#000"/><rect x="234" y="244.28" width="4.4" height="4.4" fill="#000"/><rect x="234" y="254.77" width="4.4" height="4.4" fill="#000"/><rect x="234" y="265.26" width="4.4" height="4.4" fill="#000"/>
<rect x="231.1" y="283.7" width="10.2" height="83.76" fill="#3a3a3a"/><rect x="234" y="286.74" width="4.4" height="4.4" fill="#000"/><rect x="234" y="297.2" width="4.4" height="4.4" fill="#000"/><rect x="234" y="307.68" width="4.4" height="4.4" fill="#000"/><rect x="234" y="318.14" width="4.4" height="4.4" fill="#000"/><rect x="234" y="328.62" width="4.4" height="4.4" fill="#000"/><rect x="234" y="339.08" width="4.4" height="4.4" fill="#000"/><rect x="234" y="349.56" width="4.4" height="4.4" fill="#000"/><rect x="234" y="360.03" width="4.4" height="4.4" fill="#000"/>
<rect x="125.9" y="357.1" width="9.3" height="20.6" rx="2.2" fill="#393939"/>
<rect x="129.7" y="361" width="2.6" height="2.6" fill="#a89664"/>
<rect x="129.7" y="371" width="2.6" height="2.6" fill="#a89664"/>
<rect x="136.3" y="357.1" width="9.3" height="20.6" rx="2.2" fill="#393939"/>
<rect x="140" y="361" width="2.6" height="2.6" fill="#a89664"/>
<rect x="140" y="371" width="2.6" height="2.6" fill="#a89664"/>
<rect x="146.9" y="357.1" width="9.3" height="20.6" rx="2.2" fill="#393939"/>
<rect x="150.6" y="361" width="2.6" height="2.6" fill="#a89664"/>
<rect x="150.6" y="371" width="2.6" height="2.6" fill="#a89664"/>
<rect x="167.25" y="202.6" width="5.6" height="15" rx="2.8" fill="#a2a2a2"/><rect x="168.05" y="207.5" width="4" height="5.2" fill="#f4c00e"/>
<rect x="176.1" y="202.6" width="5.6" height="15" rx="2.8" fill="#a2a2a2"/><rect x="176.9" y="207.5" width="4" height="5.2" fill="#f4c00e"/>
<rect x="193.8" y="202.6" width="5.6" height="15" rx="2.8" fill="#a2a2a2"/><rect x="194.6" y="207.5" width="4" height="5.2" fill="#f4c00e"/>
<rect x="172.25" y="333.9" width="5.6" height="15.3" rx="2.8" fill="#a2a2a2"/><rect x="173.05" y="338.95" width="4" height="5.2" fill="#f4c00e"/>
<g fill="#f2f6f8" font-size="7">
<g text-anchor="end">
<text x="226.2" y="176.1">SCL</text>
<text x="226.2" y="186.59">SDA</text>
<text x="226.2" y="197.08">AREF</text>
<text x="226.2" y="207.57">GND</text>
<text x="212.3" y="239.1">PWM</text>
<text x="212.3" y="249.6">PWM</text>
<text x="212.3" y="260.1">PWM</text>
<text x="212.3" y="302.17">PWM</text>
<text x="212.3" y="312.64">PWM</text>
<text x="212.3" y="333.58">PWM</text>
<text x="218.2" y="354.52">TX</text>
<text x="218.2" y="364.99">RX</text>
</g>
<text x="44.1" y="228.1">IOREF</text>
<text x="44.1" y="238.6">RESET</text>
<text x="44.1" y="249">3V3</text>
</g>
<g fill="#f2f6f8">
<text transform="translate(170.6,241.8) rotate(90) scale(0.89,1)" font-size="14.5" text-anchor="start" font-weight="normal">Arduino</text>
<text transform="translate(172.1,299.2) rotate(90) scale(0.89,1)" font-size="14.5" text-anchor="start" font-weight="normal">UNO</text>
<text transform="translate(45,251.7) rotate(90)" font-size="7" text-anchor="start" font-weight="normal">5V</text>
<text transform="translate(45,265.8) rotate(90)" font-size="7" text-anchor="start" font-weight="normal">Gnd</text>
<text transform="translate(45,283.3) rotate(90)" font-size="7" text-anchor="start" font-weight="normal">Vin</text>
<text transform="translate(54.6,259) rotate(90)" font-size="7" text-anchor="start" font-weight="normal">POWER</text>
<text transform="translate(54.6,313) rotate(90)" font-size="7.2" text-anchor="start" font-weight="normal">ANALOG IN</text>
<text transform="translate(68.6,262) rotate(90)" font-size="7.2" text-anchor="start" font-weight="normal">www.arduino.cc</text>
<text transform="translate(211.8,266.7) rotate(90)" font-size="6.8" text-anchor="start" font-weight="normal">DIGITAL</text>
<text transform="translate(117.4,357.9) rotate(90)" font-size="7.4" text-anchor="start" font-weight="normal">ICSP</text>
<text transform="translate(167.9,220.4) rotate(90)" font-size="6.8" text-anchor="start" font-weight="normal">RX</text>
<text transform="translate(176.5,220.4) rotate(90)" font-size="6.8" text-anchor="start" font-weight="normal">TX</text>
<text transform="translate(194,220.4) rotate(90)" font-size="6.8" text-anchor="start" font-weight="normal">L</text>
<text transform="translate(171.5,351.5) rotate(90)" font-size="6.8" text-anchor="start" font-weight="normal">ON</text>
<text transform="translate(47.5,309.6) rotate(90)" font-size="7" text-anchor="middle" dy="2.52">0</text>
<text transform="translate(47.5,320.07) rotate(90)" font-size="7" text-anchor="middle" dy="2.52">1</text>
<text transform="translate(47.5,330.54) rotate(90)" font-size="7" text-anchor="middle" dy="2.52">2</text>
<text transform="translate(47.5,341.01) rotate(90)" font-size="7" text-anchor="middle" dy="2.52">3</text>
<text transform="translate(47.5,351.48) rotate(90)" font-size="7" text-anchor="middle" dy="2.52">4</text>
<text transform="translate(47.5,361.95) rotate(90)" font-size="7" text-anchor="middle" dy="2.52">5</text>
<text transform="translate(214.8,215.06) rotate(90)" font-size="7" text-anchor="middle" dy="2.52">1</text>
<text transform="translate(214.8,225.55) rotate(90)" font-size="7" text-anchor="middle" dy="2.52">1</text>
<text transform="translate(214.8,236.04) rotate(90)" font-size="7" text-anchor="middle" dy="2.52">1</text>
<text transform="translate(214.8,246.53) rotate(90)" font-size="7" text-anchor="middle" dy="2.52">1</text>
<text transform="translate(223.4,215.06) rotate(90)" font-size="7" text-anchor="middle" dy="2.52">3</text>
<text transform="translate(223.4,225.55) rotate(90)" font-size="7" text-anchor="middle" dy="2.52">2</text>
<text transform="translate(223.4,236.04) rotate(90)" font-size="7" text-anchor="middle" dy="2.52">1</text>
<text transform="translate(223.4,246.53) rotate(90)" font-size="7" text-anchor="middle" dy="2.52">0</text>
<text transform="translate(223.4,257.02) rotate(90)" font-size="7" text-anchor="middle" dy="2.52">9</text>
<text transform="translate(223.4,267.51) rotate(90)" font-size="7" text-anchor="middle" dy="2.52">8</text>
<text transform="translate(223.4,288.7) rotate(90)" font-size="7" text-anchor="middle" dy="2.52">7</text>
<text transform="translate(223.4,299.17) rotate(90)" font-size="7" text-anchor="middle" dy="2.52">6</text>
<text transform="translate(223.4,309.64) rotate(90)" font-size="7" text-anchor="middle" dy="2.52">5</text>
<text transform="translate(223.4,320.11) rotate(90)" font-size="7" text-anchor="middle" dy="2.52">4</text>
<text transform="translate(223.4,330.58) rotate(90)" font-size="7" text-anchor="middle" dy="2.52">3</text>
<text transform="translate(223.4,341.05) rotate(90)" font-size="7" text-anchor="middle" dy="2.52">2</text>
<text transform="translate(223.4,351.52) rotate(90)" font-size="7" text-anchor="middle" dy="2.52">1</text>
<text transform="translate(223.4,361.99) rotate(90)" font-size="7" text-anchor="middle" dy="2.52">0</text>
<text x="158.5" y="364.5" font-size="7">1</text>
</g>
<rect x="391" y="90.6" width="247.7" height="172.6" rx="9" fill="#e9e9e9" stroke="#127b90" stroke-width="1.8"/>
<path d="M390.6 167.9 H394.3 Q396.1 167.9 396.1 169.7 V185.1 Q396.1 186.9 394.3 186.9 H390.6 Z" fill="#127b90"/>
<path d="M488.8 264 V257.4 a2 2 0 0 1 2 -2 H546 a2 2 0 0 1 2 2 V264 Z" fill="#127b90"/>
<text transform="translate(517.3,257.3) rotate(180)" font-size="7.4" font-weight="bold" fill="#fff" text-anchor="middle">SD CARD</text>
<rect x="421.8" y="105.4" width="185.2" height="142.6" fill="#fff"/>
<line x1="606.8" y1="106" x2="606.8" y2="152" stroke="#cdcdcd" stroke-width="0.7"/>
<path d="M421.8 106.2 H607 M421.8 248 H607" stroke="#d4d4d4" stroke-width="0.8" stroke-dasharray="1 1"/>
<rect x="436.5" y="110" width="169.2" height="133.8" fill="#3a2508"/>
<rect x="436.5" y="242.6" width="169.6" height="1.4" fill="#1e1204"/>
<rect x="441.2" y="114.9" width="156.1" height="124.5" fill="#5a3c10"/>
<rect x="442.6" y="116.1" width="153.5" height="122.1" fill="#000"/>
<rect x="528.4" y="176.3" width="35" height="7.8" fill="none" stroke="#3a3a3a" stroke-width="0.7" stroke-dasharray="1.2 1.2"/>
<rect x="510.6" y="211" width="1" height="1" fill="#333"/>
<rect x="422.1" y="113.9" width="4.1" height="126.1" fill="#2f1e0a"/>
<rect x="419.2" y="145.6" width="7" height="68" fill="#0c0a08"/>
<path d="M409.7 214.1 L416.5 217 L413.6 220.9 M408.6 226.5 L419.3 220.5 M408.6 226.5 V238.4 L414.8 243.5 H422 M413.6 227 V234.5 L417 237.8 H422" fill="none" stroke="#c9c9c9" stroke-width="0.9"/>
<circle cx="419.6" cy="232.8" r="2.6" fill="none" stroke="#c9c9c9" stroke-width="1.1"/>
<ellipse cx="403.9" cy="129.4" rx="5.9" ry="4.3" fill="#8f8f8f"/><ellipse cx="403.9" cy="129.4" rx="4.6" ry="3.2" fill="none" stroke="#62c2da" stroke-width="0.8" stroke-dasharray="0.9 0.9"/>
<ellipse cx="626.2" cy="129.4" rx="5.9" ry="4.3" fill="#8f8f8f"/><ellipse cx="626.2" cy="129.4" rx="4.6" ry="3.2" fill="none" stroke="#62c2da" stroke-width="0.8" stroke-dasharray="0.9 0.9"/>
<ellipse cx="403.9" cy="139.9" rx="5.9" ry="4.3" fill="#8f8f8f"/><ellipse cx="403.9" cy="139.9" rx="4.6" ry="3.2" fill="none" stroke="#62c2da" stroke-width="0.8" stroke-dasharray="0.9 0.9"/>
<ellipse cx="626.2" cy="139.9" rx="5.9" ry="4.3" fill="#8f8f8f"/><ellipse cx="626.2" cy="139.9" rx="4.6" ry="3.2" fill="none" stroke="#62c2da" stroke-width="0.8" stroke-dasharray="0.9 0.9"/>
<ellipse cx="403.9" cy="150.4" rx="5.9" ry="4.3" fill="#8f8f8f"/><ellipse cx="403.9" cy="150.4" rx="4.6" ry="3.2" fill="none" stroke="#62c2da" stroke-width="0.8" stroke-dasharray="0.9 0.9"/>
<ellipse cx="626.2" cy="150.4" rx="5.9" ry="4.3" fill="#8f8f8f"/><ellipse cx="626.2" cy="150.4" rx="4.6" ry="3.2" fill="none" stroke="#62c2da" stroke-width="0.8" stroke-dasharray="0.9 0.9"/>
<ellipse cx="403.9" cy="160.9" rx="5.9" ry="4.3" fill="#8f8f8f"/><ellipse cx="403.9" cy="160.9" rx="4.6" ry="3.2" fill="none" stroke="#62c2da" stroke-width="0.8" stroke-dasharray="0.9 0.9"/>
<ellipse cx="626.2" cy="160.9" rx="5.9" ry="4.3" fill="#8f8f8f"/><ellipse cx="626.2" cy="160.9" rx="4.6" ry="3.2" fill="none" stroke="#62c2da" stroke-width="0.8" stroke-dasharray="0.9 0.9"/>
<ellipse cx="403.9" cy="171.4" rx="5.9" ry="4.3" fill="#8f8f8f"/><ellipse cx="403.9" cy="171.4" rx="4.6" ry="3.2" fill="none" stroke="#62c2da" stroke-width="0.8" stroke-dasharray="0.9 0.9"/>
<ellipse cx="626.2" cy="171.4" rx="5.9" ry="4.3" fill="#8f8f8f"/><ellipse cx="626.2" cy="171.4" rx="4.6" ry="3.2" fill="none" stroke="#62c2da" stroke-width="0.8" stroke-dasharray="0.9 0.9"/>
<ellipse cx="403.9" cy="181.9" rx="5.9" ry="4.3" fill="#8f8f8f"/><ellipse cx="403.9" cy="181.9" rx="4.6" ry="3.2" fill="none" stroke="#62c2da" stroke-width="0.8" stroke-dasharray="0.9 0.9"/>
<ellipse cx="626.2" cy="181.9" rx="5.9" ry="4.3" fill="#8f8f8f"/><ellipse cx="626.2" cy="181.9" rx="4.6" ry="3.2" fill="none" stroke="#62c2da" stroke-width="0.8" stroke-dasharray="0.9 0.9"/>
<ellipse cx="403.9" cy="192.4" rx="5.9" ry="4.3" fill="#8f8f8f"/><ellipse cx="403.9" cy="192.4" rx="4.6" ry="3.2" fill="none" stroke="#62c2da" stroke-width="0.8" stroke-dasharray="0.9 0.9"/>
<ellipse cx="626.2" cy="192.4" rx="5.9" ry="4.3" fill="#8f8f8f"/><ellipse cx="626.2" cy="192.4" rx="4.6" ry="3.2" fill="none" stroke="#62c2da" stroke-width="0.8" stroke-dasharray="0.9 0.9"/>
<ellipse cx="403.9" cy="202.9" rx="5.9" ry="4.3" fill="#8f8f8f"/><ellipse cx="403.9" cy="202.9" rx="4.6" ry="3.2" fill="none" stroke="#62c2da" stroke-width="0.8" stroke-dasharray="0.9 0.9"/>
<ellipse cx="626.2" cy="202.9" rx="5.9" ry="4.3" fill="#8f8f8f"/><ellipse cx="626.2" cy="202.9" rx="4.6" ry="3.2" fill="none" stroke="#62c2da" stroke-width="0.8" stroke-dasharray="0.9 0.9"/>
<ellipse cx="403.9" cy="213.4" rx="5.9" ry="4.3" fill="#8f8f8f"/><ellipse cx="403.9" cy="213.4" rx="4.6" ry="3.2" fill="none" stroke="#62c2da" stroke-width="0.8" stroke-dasharray="0.9 0.9"/>
<ellipse cx="626.2" cy="213.4" rx="5.9" ry="4.3" fill="#8f8f8f"/><ellipse cx="626.2" cy="213.4" rx="4.6" ry="3.2" fill="none" stroke="#62c2da" stroke-width="0.8" stroke-dasharray="0.9 0.9"/>
<ellipse cx="403.9" cy="223.9" rx="5.9" ry="4.3" fill="#8f8f8f"/><ellipse cx="403.9" cy="223.9" rx="4.6" ry="3.2" fill="none" stroke="#62c2da" stroke-width="0.8" stroke-dasharray="0.9 0.9"/>
<ellipse cx="626.2" cy="223.9" rx="5.9" ry="4.3" fill="#8f8f8f"/><ellipse cx="626.2" cy="223.9" rx="4.6" ry="3.2" fill="none" stroke="#62c2da" stroke-width="0.8" stroke-dasharray="0.9 0.9"/>
<circle cx="403.9" cy="103.2" r="6.6" fill="#d9dbda" stroke="#127b90" stroke-width="1.1"/>
<circle cx="404.5" cy="98.8" r="2.9" fill="#c6c6c6" opacity="0.7"/><circle cx="403.4" cy="99.9" r="2.8" fill="#f4f4f4" opacity="0.9"/><circle cx="403.9" cy="99.4" r="1.75" fill="#1e1e1e"/>
<circle cx="403.9" cy="250.1" r="6.6" fill="#d9dbda" stroke="#127b90" stroke-width="1.1"/>
<circle cx="404.5" cy="245.8" r="2.9" fill="#c6c6c6" opacity="0.7"/><circle cx="403.4" cy="246.9" r="2.8" fill="#f4f4f4" opacity="0.9"/><circle cx="403.9" cy="246.4" r="1.75" fill="#1e1e1e"/>
<circle cx="626.2" cy="102.9" r="6.6" fill="#fff" stroke="#127b90" stroke-width="1.1"/>
<circle cx="626.2" cy="250.1" r="6.6" fill="#fff" stroke="#127b90" stroke-width="1.1"/>
<rect x="402.1" y="307.8" width="9.5" height="3.4" rx="1.4" fill="#999"/><rect x="402.8" y="308.9" width="8" height="1.1" fill="#b8b8b8"/><rect x="402.1" y="318.3" width="9.5" height="3.4" rx="1.4" fill="#999"/><rect x="402.8" y="319.4" width="8" height="1.1" fill="#b8b8b8"/><rect x="402.1" y="328.8" width="9.5" height="3.4" rx="1.4" fill="#999"/><rect x="402.8" y="329.9" width="8" height="1.1" fill="#b8b8b8"/><rect x="408.2" y="305.9" width="12.4" height="27.7" fill="#1f1f1f"/><rect x="416.3" y="315.6" width="3.7" height="8.6" fill="#000"/><rect x="421" y="314" width="40.5" height="11.6" rx="2" fill="#1e1e1e"/><rect x="421" y="318.7" width="40" height="2" fill="#3c3c3c"/>
<rect x="402.1" y="350.1" width="9.5" height="3.4" rx="1.4" fill="#999"/><rect x="402.8" y="351.2" width="8" height="1.1" fill="#b8b8b8"/><rect x="402.1" y="360.6" width="9.5" height="3.4" rx="1.4" fill="#999"/><rect x="402.8" y="361.7" width="8" height="1.1" fill="#b8b8b8"/><rect x="402.1" y="371.1" width="9.5" height="3.4" rx="1.4" fill="#999"/><rect x="402.8" y="372.2" width="8" height="1.1" fill="#b8b8b8"/><rect x="408.2" y="348.2" width="12.4" height="27.7" fill="#1f1f1f"/><rect x="416.3" y="357.9" width="3.7" height="8.6" fill="#000"/><rect x="421" y="356.3" width="40.5" height="11.6" rx="2" fill="#1e1e1e"/><rect x="421" y="361" width="40" height="2" fill="#3c3c3c"/>
<path d="M330.8 82.5 V5.1 H5 V267.6 H37" fill="none" stroke="#161616" stroke-width="4.4" stroke-linejoin="round" stroke-linecap="round"/><path d="M330.8 82.5 V5.1 H5 V267.6 H37" fill="none" stroke="#3a3a3a" stroke-width="3.1" stroke-linejoin="round" stroke-linecap="round"/>
<path d="M320 82.5 V15.3 H15.5 V256.9 H37" fill="none" stroke="#8e0c0e" stroke-width="4.4" stroke-linejoin="round" stroke-linecap="round"/><path d="M320 82.5 V15.3 H15.5 V256.9 H37" fill="none" stroke="#c81418" stroke-width="3.1" stroke-linejoin="round" stroke-linecap="round"/>
<path d="M37.5 309.3 H5 V414.3 H288.4 V361.5 H362.3" fill="none" stroke="#e3a80a" stroke-width="4.4" stroke-linejoin="round" stroke-linecap="round"/><path d="M37.5 309.3 H5 V414.3 H288.4 V361.5 H362.3" fill="none" stroke="#f9cf30" stroke-width="3.1" stroke-linejoin="round" stroke-linecap="round"/><path d="M37.5 309.3 H5 V414.3 H288.4 V361.5 H362.3" fill="none" stroke="#fcdc58" stroke-width="1.1" stroke-linejoin="round" stroke-linecap="round"/>
<path d="M37.5 319.8 H15.5 V404 H278 V319.8 H362.3" fill="none" stroke="#e3a80a" stroke-width="4.4" stroke-linejoin="round" stroke-linecap="round"/><path d="M37.5 319.8 H15.5 V404 H278 V319.8 H362.3" fill="none" stroke="#f9cf30" stroke-width="3.1" stroke-linejoin="round" stroke-linecap="round"/><path d="M37.5 319.8 H15.5 V404 H278 V319.8 H362.3" fill="none" stroke="#fcdc58" stroke-width="1.1" stroke-linejoin="round" stroke-linecap="round"/>
<path d="M320 313.3 L362 309.3" fill="none" stroke="#8e0c0e" stroke-width="4.1" stroke-linejoin="round" stroke-linecap="round"/><path d="M320 313.3 L362 309.3" fill="none" stroke="#c81418" stroke-width="2.8" stroke-linejoin="round" stroke-linecap="round"/>
<path d="M330.6 334.7 L361.8 330.5" fill="none" stroke="#111" stroke-width="4.1" stroke-linejoin="round" stroke-linecap="round"/><path d="M330.6 334.7 L361.8 330.5" fill="none" stroke="#2e2e2e" stroke-width="2.8" stroke-linejoin="round" stroke-linecap="round"/>
<path d="M320 354.8 L362 350.8" fill="none" stroke="#8e0c0e" stroke-width="4.1" stroke-linejoin="round" stroke-linecap="round"/><path d="M320 354.8 L362 350.8" fill="none" stroke="#c81418" stroke-width="2.8" stroke-linejoin="round" stroke-linecap="round"/>
<path d="M330.6 376.6 L361.8 372.4" fill="none" stroke="#111" stroke-width="4.1" stroke-linejoin="round" stroke-linecap="round"/><path d="M330.6 376.6 L361.8 372.4" fill="none" stroke="#2e2e2e" stroke-width="2.8" stroke-linejoin="round" stroke-linecap="round"/>
<text x="368.2" y="439.3" font-size="12.5" fill="#8a8a8a" textLength="59.4" lengthAdjust="spacingAndGlyphs">Made with</text>
<path d="M433.9 429.4 Q433.9 427.9 435.4 427.9 H448.1 Q449.6 427.9 449.6 429.4 V437.6 L444.2 443 H433.9 Z" fill="#8a8a8a"/>
<path d="M438.2 431.7 H445.1 V434.3 H441.9 V435.2 H444.6 V437.1 H441.9 V440.2 H438.2 Z" fill="#fff"/>
<text x="455.6" y="439.2" font-size="12.1" font-weight="bold" fill="#8a8a8a" textLength="71.5" lengthAdjust="spacingAndGlyphs">Fritzing.org</text>
</svg>
</body></html>
